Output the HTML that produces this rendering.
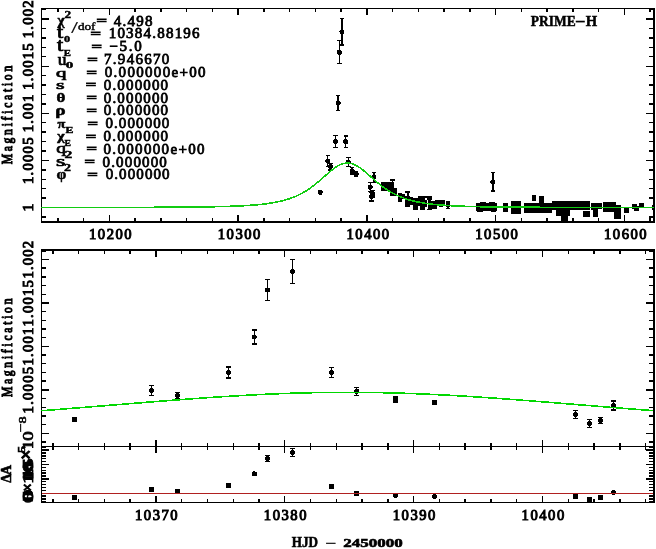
<!DOCTYPE html>
<html><head><meta charset="utf-8"><style>
html,body{margin:0;padding:0;background:#fff;}
svg{display:block;}
</style></head><body>
<svg width="656" height="549" viewBox="0 0 656 549">
<rect x="0" y="0" width="656" height="549" fill="#fff"/>
<g shape-rendering="crispEdges">
<rect x="41.00" y="8.00" width="614.00" height="1.00" fill="#000"/>
<rect x="41.00" y="221.00" width="614.00" height="2.00" fill="#000"/>
<rect x="41.00" y="8.00" width="1.00" height="215.00" fill="#000"/>
<rect x="653.00" y="8.00" width="2.00" height="215.00" fill="#000"/>
<rect x="41.00" y="249.00" width="614.00" height="2.00" fill="#000"/>
<rect x="41.00" y="446.00" width="614.00" height="1.00" fill="#000"/>
<rect x="41.00" y="249.00" width="1.00" height="198.00" fill="#000"/>
<rect x="653.00" y="249.00" width="2.00" height="198.00" fill="#000"/>
<rect x="41.00" y="446.00" width="614.00" height="1.00" fill="#000"/>
<rect x="41.00" y="502.00" width="614.00" height="1.00" fill="#000"/>
<rect x="41.00" y="446.00" width="1.00" height="57.00" fill="#000"/>
<rect x="653.00" y="446.00" width="2.00" height="57.00" fill="#000"/>
<line x1="57.90" y1="8.00" x2="57.90" y2="12.00" stroke="#000" stroke-width="1.4"/>
<line x1="57.90" y1="222.00" x2="57.90" y2="218.00" stroke="#000" stroke-width="1.4"/>
<line x1="83.65" y1="8.00" x2="83.65" y2="12.00" stroke="#000" stroke-width="1.4"/>
<line x1="83.65" y1="222.00" x2="83.65" y2="218.00" stroke="#000" stroke-width="1.4"/>
<line x1="109.40" y1="8.00" x2="109.40" y2="15.00" stroke="#000" stroke-width="1.4"/>
<line x1="109.40" y1="222.00" x2="109.40" y2="215.00" stroke="#000" stroke-width="1.4"/>
<line x1="135.15" y1="8.00" x2="135.15" y2="12.00" stroke="#000" stroke-width="1.4"/>
<line x1="135.15" y1="222.00" x2="135.15" y2="218.00" stroke="#000" stroke-width="1.4"/>
<line x1="160.90" y1="8.00" x2="160.90" y2="12.00" stroke="#000" stroke-width="1.4"/>
<line x1="160.90" y1="222.00" x2="160.90" y2="218.00" stroke="#000" stroke-width="1.4"/>
<line x1="186.65" y1="8.00" x2="186.65" y2="12.00" stroke="#000" stroke-width="1.4"/>
<line x1="186.65" y1="222.00" x2="186.65" y2="218.00" stroke="#000" stroke-width="1.4"/>
<line x1="212.40" y1="8.00" x2="212.40" y2="12.00" stroke="#000" stroke-width="1.4"/>
<line x1="212.40" y1="222.00" x2="212.40" y2="218.00" stroke="#000" stroke-width="1.4"/>
<line x1="238.15" y1="8.00" x2="238.15" y2="15.00" stroke="#000" stroke-width="1.4"/>
<line x1="238.15" y1="222.00" x2="238.15" y2="215.00" stroke="#000" stroke-width="1.4"/>
<line x1="263.90" y1="8.00" x2="263.90" y2="12.00" stroke="#000" stroke-width="1.4"/>
<line x1="263.90" y1="222.00" x2="263.90" y2="218.00" stroke="#000" stroke-width="1.4"/>
<line x1="289.65" y1="8.00" x2="289.65" y2="12.00" stroke="#000" stroke-width="1.4"/>
<line x1="289.65" y1="222.00" x2="289.65" y2="218.00" stroke="#000" stroke-width="1.4"/>
<line x1="315.40" y1="8.00" x2="315.40" y2="12.00" stroke="#000" stroke-width="1.4"/>
<line x1="315.40" y1="222.00" x2="315.40" y2="218.00" stroke="#000" stroke-width="1.4"/>
<line x1="341.15" y1="8.00" x2="341.15" y2="12.00" stroke="#000" stroke-width="1.4"/>
<line x1="341.15" y1="222.00" x2="341.15" y2="218.00" stroke="#000" stroke-width="1.4"/>
<line x1="366.90" y1="8.00" x2="366.90" y2="15.00" stroke="#000" stroke-width="1.4"/>
<line x1="366.90" y1="222.00" x2="366.90" y2="215.00" stroke="#000" stroke-width="1.4"/>
<line x1="392.65" y1="8.00" x2="392.65" y2="12.00" stroke="#000" stroke-width="1.4"/>
<line x1="392.65" y1="222.00" x2="392.65" y2="218.00" stroke="#000" stroke-width="1.4"/>
<line x1="418.40" y1="8.00" x2="418.40" y2="12.00" stroke="#000" stroke-width="1.4"/>
<line x1="418.40" y1="222.00" x2="418.40" y2="218.00" stroke="#000" stroke-width="1.4"/>
<line x1="444.15" y1="8.00" x2="444.15" y2="12.00" stroke="#000" stroke-width="1.4"/>
<line x1="444.15" y1="222.00" x2="444.15" y2="218.00" stroke="#000" stroke-width="1.4"/>
<line x1="469.90" y1="8.00" x2="469.90" y2="12.00" stroke="#000" stroke-width="1.4"/>
<line x1="469.90" y1="222.00" x2="469.90" y2="218.00" stroke="#000" stroke-width="1.4"/>
<line x1="495.65" y1="8.00" x2="495.65" y2="15.00" stroke="#000" stroke-width="1.4"/>
<line x1="495.65" y1="222.00" x2="495.65" y2="215.00" stroke="#000" stroke-width="1.4"/>
<line x1="521.40" y1="8.00" x2="521.40" y2="12.00" stroke="#000" stroke-width="1.4"/>
<line x1="521.40" y1="222.00" x2="521.40" y2="218.00" stroke="#000" stroke-width="1.4"/>
<line x1="547.15" y1="8.00" x2="547.15" y2="12.00" stroke="#000" stroke-width="1.4"/>
<line x1="547.15" y1="222.00" x2="547.15" y2="218.00" stroke="#000" stroke-width="1.4"/>
<line x1="572.90" y1="8.00" x2="572.90" y2="12.00" stroke="#000" stroke-width="1.4"/>
<line x1="572.90" y1="222.00" x2="572.90" y2="218.00" stroke="#000" stroke-width="1.4"/>
<line x1="598.65" y1="8.00" x2="598.65" y2="12.00" stroke="#000" stroke-width="1.4"/>
<line x1="598.65" y1="222.00" x2="598.65" y2="218.00" stroke="#000" stroke-width="1.4"/>
<line x1="624.40" y1="8.00" x2="624.40" y2="15.00" stroke="#000" stroke-width="1.4"/>
<line x1="624.40" y1="222.00" x2="624.40" y2="215.00" stroke="#000" stroke-width="1.4"/>
<line x1="650.15" y1="8.00" x2="650.15" y2="12.00" stroke="#000" stroke-width="1.4"/>
<line x1="650.15" y1="222.00" x2="650.15" y2="218.00" stroke="#000" stroke-width="1.4"/>
<line x1="41.00" y1="216.92" x2="45.80" y2="216.92" stroke="#000" stroke-width="1.4"/>
<line x1="654.00" y1="216.92" x2="649.20" y2="216.92" stroke="#000" stroke-width="1.4"/>
<line x1="41.00" y1="207.50" x2="48.60" y2="207.50" stroke="#000" stroke-width="1.4"/>
<line x1="654.00" y1="207.50" x2="646.40" y2="207.50" stroke="#000" stroke-width="1.4"/>
<line x1="41.00" y1="198.08" x2="45.80" y2="198.08" stroke="#000" stroke-width="1.4"/>
<line x1="654.00" y1="198.08" x2="649.20" y2="198.08" stroke="#000" stroke-width="1.4"/>
<line x1="41.00" y1="188.66" x2="45.80" y2="188.66" stroke="#000" stroke-width="1.4"/>
<line x1="654.00" y1="188.66" x2="649.20" y2="188.66" stroke="#000" stroke-width="1.4"/>
<line x1="41.00" y1="179.24" x2="45.80" y2="179.24" stroke="#000" stroke-width="1.4"/>
<line x1="654.00" y1="179.24" x2="649.20" y2="179.24" stroke="#000" stroke-width="1.4"/>
<line x1="41.00" y1="169.82" x2="45.80" y2="169.82" stroke="#000" stroke-width="1.4"/>
<line x1="654.00" y1="169.82" x2="649.20" y2="169.82" stroke="#000" stroke-width="1.4"/>
<line x1="41.00" y1="160.40" x2="48.60" y2="160.40" stroke="#000" stroke-width="1.4"/>
<line x1="654.00" y1="160.40" x2="646.40" y2="160.40" stroke="#000" stroke-width="1.4"/>
<line x1="41.00" y1="150.98" x2="45.80" y2="150.98" stroke="#000" stroke-width="1.4"/>
<line x1="654.00" y1="150.98" x2="649.20" y2="150.98" stroke="#000" stroke-width="1.4"/>
<line x1="41.00" y1="141.56" x2="45.80" y2="141.56" stroke="#000" stroke-width="1.4"/>
<line x1="654.00" y1="141.56" x2="649.20" y2="141.56" stroke="#000" stroke-width="1.4"/>
<line x1="41.00" y1="132.14" x2="45.80" y2="132.14" stroke="#000" stroke-width="1.4"/>
<line x1="654.00" y1="132.14" x2="649.20" y2="132.14" stroke="#000" stroke-width="1.4"/>
<line x1="41.00" y1="122.72" x2="45.80" y2="122.72" stroke="#000" stroke-width="1.4"/>
<line x1="654.00" y1="122.72" x2="649.20" y2="122.72" stroke="#000" stroke-width="1.4"/>
<line x1="41.00" y1="113.30" x2="48.60" y2="113.30" stroke="#000" stroke-width="1.4"/>
<line x1="654.00" y1="113.30" x2="646.40" y2="113.30" stroke="#000" stroke-width="1.4"/>
<line x1="41.00" y1="103.88" x2="45.80" y2="103.88" stroke="#000" stroke-width="1.4"/>
<line x1="654.00" y1="103.88" x2="649.20" y2="103.88" stroke="#000" stroke-width="1.4"/>
<line x1="41.00" y1="94.46" x2="45.80" y2="94.46" stroke="#000" stroke-width="1.4"/>
<line x1="654.00" y1="94.46" x2="649.20" y2="94.46" stroke="#000" stroke-width="1.4"/>
<line x1="41.00" y1="85.04" x2="45.80" y2="85.04" stroke="#000" stroke-width="1.4"/>
<line x1="654.00" y1="85.04" x2="649.20" y2="85.04" stroke="#000" stroke-width="1.4"/>
<line x1="41.00" y1="75.62" x2="45.80" y2="75.62" stroke="#000" stroke-width="1.4"/>
<line x1="654.00" y1="75.62" x2="649.20" y2="75.62" stroke="#000" stroke-width="1.4"/>
<line x1="41.00" y1="66.20" x2="48.60" y2="66.20" stroke="#000" stroke-width="1.4"/>
<line x1="654.00" y1="66.20" x2="646.40" y2="66.20" stroke="#000" stroke-width="1.4"/>
<line x1="41.00" y1="56.78" x2="45.80" y2="56.78" stroke="#000" stroke-width="1.4"/>
<line x1="654.00" y1="56.78" x2="649.20" y2="56.78" stroke="#000" stroke-width="1.4"/>
<line x1="41.00" y1="47.36" x2="45.80" y2="47.36" stroke="#000" stroke-width="1.4"/>
<line x1="654.00" y1="47.36" x2="649.20" y2="47.36" stroke="#000" stroke-width="1.4"/>
<line x1="41.00" y1="37.94" x2="45.80" y2="37.94" stroke="#000" stroke-width="1.4"/>
<line x1="654.00" y1="37.94" x2="649.20" y2="37.94" stroke="#000" stroke-width="1.4"/>
<line x1="41.00" y1="28.52" x2="45.80" y2="28.52" stroke="#000" stroke-width="1.4"/>
<line x1="654.00" y1="28.52" x2="649.20" y2="28.52" stroke="#000" stroke-width="1.4"/>
<line x1="41.00" y1="19.10" x2="48.60" y2="19.10" stroke="#000" stroke-width="1.4"/>
<line x1="654.00" y1="19.10" x2="646.40" y2="19.10" stroke="#000" stroke-width="1.4"/>
<line x1="41.00" y1="9.68" x2="45.80" y2="9.68" stroke="#000" stroke-width="1.4"/>
<line x1="654.00" y1="9.68" x2="649.20" y2="9.68" stroke="#000" stroke-width="1.4"/>
<line x1="52.80" y1="250.00" x2="52.80" y2="254.00" stroke="#000" stroke-width="1.4"/>
<line x1="52.80" y1="447.00" x2="52.80" y2="443.00" stroke="#000" stroke-width="1.4"/>
<line x1="78.58" y1="250.00" x2="78.58" y2="254.00" stroke="#000" stroke-width="1.4"/>
<line x1="78.58" y1="447.00" x2="78.58" y2="443.00" stroke="#000" stroke-width="1.4"/>
<line x1="104.35" y1="250.00" x2="104.35" y2="254.00" stroke="#000" stroke-width="1.4"/>
<line x1="104.35" y1="447.00" x2="104.35" y2="443.00" stroke="#000" stroke-width="1.4"/>
<line x1="130.13" y1="250.00" x2="130.13" y2="254.00" stroke="#000" stroke-width="1.4"/>
<line x1="130.13" y1="447.00" x2="130.13" y2="443.00" stroke="#000" stroke-width="1.4"/>
<line x1="155.90" y1="250.00" x2="155.90" y2="257.00" stroke="#000" stroke-width="1.4"/>
<line x1="155.90" y1="447.00" x2="155.90" y2="440.00" stroke="#000" stroke-width="1.4"/>
<line x1="181.67" y1="250.00" x2="181.67" y2="254.00" stroke="#000" stroke-width="1.4"/>
<line x1="181.67" y1="447.00" x2="181.67" y2="443.00" stroke="#000" stroke-width="1.4"/>
<line x1="207.45" y1="250.00" x2="207.45" y2="254.00" stroke="#000" stroke-width="1.4"/>
<line x1="207.45" y1="447.00" x2="207.45" y2="443.00" stroke="#000" stroke-width="1.4"/>
<line x1="233.22" y1="250.00" x2="233.22" y2="254.00" stroke="#000" stroke-width="1.4"/>
<line x1="233.22" y1="447.00" x2="233.22" y2="443.00" stroke="#000" stroke-width="1.4"/>
<line x1="259.00" y1="250.00" x2="259.00" y2="254.00" stroke="#000" stroke-width="1.4"/>
<line x1="259.00" y1="447.00" x2="259.00" y2="443.00" stroke="#000" stroke-width="1.4"/>
<line x1="284.77" y1="250.00" x2="284.77" y2="257.00" stroke="#000" stroke-width="1.4"/>
<line x1="284.77" y1="447.00" x2="284.77" y2="440.00" stroke="#000" stroke-width="1.4"/>
<line x1="310.54" y1="250.00" x2="310.54" y2="254.00" stroke="#000" stroke-width="1.4"/>
<line x1="310.54" y1="447.00" x2="310.54" y2="443.00" stroke="#000" stroke-width="1.4"/>
<line x1="336.32" y1="250.00" x2="336.32" y2="254.00" stroke="#000" stroke-width="1.4"/>
<line x1="336.32" y1="447.00" x2="336.32" y2="443.00" stroke="#000" stroke-width="1.4"/>
<line x1="362.09" y1="250.00" x2="362.09" y2="254.00" stroke="#000" stroke-width="1.4"/>
<line x1="362.09" y1="447.00" x2="362.09" y2="443.00" stroke="#000" stroke-width="1.4"/>
<line x1="387.87" y1="250.00" x2="387.87" y2="254.00" stroke="#000" stroke-width="1.4"/>
<line x1="387.87" y1="447.00" x2="387.87" y2="443.00" stroke="#000" stroke-width="1.4"/>
<line x1="413.64" y1="250.00" x2="413.64" y2="257.00" stroke="#000" stroke-width="1.4"/>
<line x1="413.64" y1="447.00" x2="413.64" y2="440.00" stroke="#000" stroke-width="1.4"/>
<line x1="439.41" y1="250.00" x2="439.41" y2="254.00" stroke="#000" stroke-width="1.4"/>
<line x1="439.41" y1="447.00" x2="439.41" y2="443.00" stroke="#000" stroke-width="1.4"/>
<line x1="465.19" y1="250.00" x2="465.19" y2="254.00" stroke="#000" stroke-width="1.4"/>
<line x1="465.19" y1="447.00" x2="465.19" y2="443.00" stroke="#000" stroke-width="1.4"/>
<line x1="490.96" y1="250.00" x2="490.96" y2="254.00" stroke="#000" stroke-width="1.4"/>
<line x1="490.96" y1="447.00" x2="490.96" y2="443.00" stroke="#000" stroke-width="1.4"/>
<line x1="516.74" y1="250.00" x2="516.74" y2="254.00" stroke="#000" stroke-width="1.4"/>
<line x1="516.74" y1="447.00" x2="516.74" y2="443.00" stroke="#000" stroke-width="1.4"/>
<line x1="542.51" y1="250.00" x2="542.51" y2="257.00" stroke="#000" stroke-width="1.4"/>
<line x1="542.51" y1="447.00" x2="542.51" y2="440.00" stroke="#000" stroke-width="1.4"/>
<line x1="568.28" y1="250.00" x2="568.28" y2="254.00" stroke="#000" stroke-width="1.4"/>
<line x1="568.28" y1="447.00" x2="568.28" y2="443.00" stroke="#000" stroke-width="1.4"/>
<line x1="594.06" y1="250.00" x2="594.06" y2="254.00" stroke="#000" stroke-width="1.4"/>
<line x1="594.06" y1="447.00" x2="594.06" y2="443.00" stroke="#000" stroke-width="1.4"/>
<line x1="619.83" y1="250.00" x2="619.83" y2="254.00" stroke="#000" stroke-width="1.4"/>
<line x1="619.83" y1="447.00" x2="619.83" y2="443.00" stroke="#000" stroke-width="1.4"/>
<line x1="645.61" y1="250.00" x2="645.61" y2="254.00" stroke="#000" stroke-width="1.4"/>
<line x1="645.61" y1="447.00" x2="645.61" y2="443.00" stroke="#000" stroke-width="1.4"/>
<line x1="41.00" y1="441.99" x2="45.80" y2="441.99" stroke="#000" stroke-width="1.4"/>
<line x1="654.00" y1="441.99" x2="649.20" y2="441.99" stroke="#000" stroke-width="1.4"/>
<line x1="41.00" y1="433.30" x2="48.60" y2="433.30" stroke="#000" stroke-width="1.4"/>
<line x1="654.00" y1="433.30" x2="646.40" y2="433.30" stroke="#000" stroke-width="1.4"/>
<line x1="41.00" y1="424.61" x2="45.80" y2="424.61" stroke="#000" stroke-width="1.4"/>
<line x1="654.00" y1="424.61" x2="649.20" y2="424.61" stroke="#000" stroke-width="1.4"/>
<line x1="41.00" y1="415.92" x2="45.80" y2="415.92" stroke="#000" stroke-width="1.4"/>
<line x1="654.00" y1="415.92" x2="649.20" y2="415.92" stroke="#000" stroke-width="1.4"/>
<line x1="41.00" y1="407.23" x2="45.80" y2="407.23" stroke="#000" stroke-width="1.4"/>
<line x1="654.00" y1="407.23" x2="649.20" y2="407.23" stroke="#000" stroke-width="1.4"/>
<line x1="41.00" y1="398.54" x2="45.80" y2="398.54" stroke="#000" stroke-width="1.4"/>
<line x1="654.00" y1="398.54" x2="649.20" y2="398.54" stroke="#000" stroke-width="1.4"/>
<line x1="41.00" y1="389.85" x2="48.60" y2="389.85" stroke="#000" stroke-width="1.4"/>
<line x1="654.00" y1="389.85" x2="646.40" y2="389.85" stroke="#000" stroke-width="1.4"/>
<line x1="41.00" y1="381.16" x2="45.80" y2="381.16" stroke="#000" stroke-width="1.4"/>
<line x1="654.00" y1="381.16" x2="649.20" y2="381.16" stroke="#000" stroke-width="1.4"/>
<line x1="41.00" y1="372.47" x2="45.80" y2="372.47" stroke="#000" stroke-width="1.4"/>
<line x1="654.00" y1="372.47" x2="649.20" y2="372.47" stroke="#000" stroke-width="1.4"/>
<line x1="41.00" y1="363.78" x2="45.80" y2="363.78" stroke="#000" stroke-width="1.4"/>
<line x1="654.00" y1="363.78" x2="649.20" y2="363.78" stroke="#000" stroke-width="1.4"/>
<line x1="41.00" y1="355.09" x2="45.80" y2="355.09" stroke="#000" stroke-width="1.4"/>
<line x1="654.00" y1="355.09" x2="649.20" y2="355.09" stroke="#000" stroke-width="1.4"/>
<line x1="41.00" y1="346.40" x2="48.60" y2="346.40" stroke="#000" stroke-width="1.4"/>
<line x1="654.00" y1="346.40" x2="646.40" y2="346.40" stroke="#000" stroke-width="1.4"/>
<line x1="41.00" y1="337.71" x2="45.80" y2="337.71" stroke="#000" stroke-width="1.4"/>
<line x1="654.00" y1="337.71" x2="649.20" y2="337.71" stroke="#000" stroke-width="1.4"/>
<line x1="41.00" y1="329.02" x2="45.80" y2="329.02" stroke="#000" stroke-width="1.4"/>
<line x1="654.00" y1="329.02" x2="649.20" y2="329.02" stroke="#000" stroke-width="1.4"/>
<line x1="41.00" y1="320.33" x2="45.80" y2="320.33" stroke="#000" stroke-width="1.4"/>
<line x1="654.00" y1="320.33" x2="649.20" y2="320.33" stroke="#000" stroke-width="1.4"/>
<line x1="41.00" y1="311.64" x2="45.80" y2="311.64" stroke="#000" stroke-width="1.4"/>
<line x1="654.00" y1="311.64" x2="649.20" y2="311.64" stroke="#000" stroke-width="1.4"/>
<line x1="41.00" y1="302.95" x2="48.60" y2="302.95" stroke="#000" stroke-width="1.4"/>
<line x1="654.00" y1="302.95" x2="646.40" y2="302.95" stroke="#000" stroke-width="1.4"/>
<line x1="41.00" y1="294.26" x2="45.80" y2="294.26" stroke="#000" stroke-width="1.4"/>
<line x1="654.00" y1="294.26" x2="649.20" y2="294.26" stroke="#000" stroke-width="1.4"/>
<line x1="41.00" y1="285.57" x2="45.80" y2="285.57" stroke="#000" stroke-width="1.4"/>
<line x1="654.00" y1="285.57" x2="649.20" y2="285.57" stroke="#000" stroke-width="1.4"/>
<line x1="41.00" y1="276.88" x2="45.80" y2="276.88" stroke="#000" stroke-width="1.4"/>
<line x1="654.00" y1="276.88" x2="649.20" y2="276.88" stroke="#000" stroke-width="1.4"/>
<line x1="41.00" y1="268.19" x2="45.80" y2="268.19" stroke="#000" stroke-width="1.4"/>
<line x1="654.00" y1="268.19" x2="649.20" y2="268.19" stroke="#000" stroke-width="1.4"/>
<line x1="41.00" y1="259.50" x2="48.60" y2="259.50" stroke="#000" stroke-width="1.4"/>
<line x1="654.00" y1="259.50" x2="646.40" y2="259.50" stroke="#000" stroke-width="1.4"/>
<line x1="41.00" y1="250.81" x2="45.80" y2="250.81" stroke="#000" stroke-width="1.4"/>
<line x1="654.00" y1="250.81" x2="649.20" y2="250.81" stroke="#000" stroke-width="1.4"/>
<line x1="52.80" y1="446.00" x2="52.80" y2="450.00" stroke="#000" stroke-width="1.4"/>
<line x1="52.80" y1="502.50" x2="52.80" y2="498.50" stroke="#000" stroke-width="1.4"/>
<line x1="78.58" y1="446.00" x2="78.58" y2="450.00" stroke="#000" stroke-width="1.4"/>
<line x1="78.58" y1="502.50" x2="78.58" y2="498.50" stroke="#000" stroke-width="1.4"/>
<line x1="104.35" y1="446.00" x2="104.35" y2="450.00" stroke="#000" stroke-width="1.4"/>
<line x1="104.35" y1="502.50" x2="104.35" y2="498.50" stroke="#000" stroke-width="1.4"/>
<line x1="130.13" y1="446.00" x2="130.13" y2="450.00" stroke="#000" stroke-width="1.4"/>
<line x1="130.13" y1="502.50" x2="130.13" y2="498.50" stroke="#000" stroke-width="1.4"/>
<line x1="155.90" y1="446.00" x2="155.90" y2="453.00" stroke="#000" stroke-width="1.4"/>
<line x1="155.90" y1="502.50" x2="155.90" y2="495.50" stroke="#000" stroke-width="1.4"/>
<line x1="181.67" y1="446.00" x2="181.67" y2="450.00" stroke="#000" stroke-width="1.4"/>
<line x1="181.67" y1="502.50" x2="181.67" y2="498.50" stroke="#000" stroke-width="1.4"/>
<line x1="207.45" y1="446.00" x2="207.45" y2="450.00" stroke="#000" stroke-width="1.4"/>
<line x1="207.45" y1="502.50" x2="207.45" y2="498.50" stroke="#000" stroke-width="1.4"/>
<line x1="233.22" y1="446.00" x2="233.22" y2="450.00" stroke="#000" stroke-width="1.4"/>
<line x1="233.22" y1="502.50" x2="233.22" y2="498.50" stroke="#000" stroke-width="1.4"/>
<line x1="259.00" y1="446.00" x2="259.00" y2="450.00" stroke="#000" stroke-width="1.4"/>
<line x1="259.00" y1="502.50" x2="259.00" y2="498.50" stroke="#000" stroke-width="1.4"/>
<line x1="284.77" y1="446.00" x2="284.77" y2="453.00" stroke="#000" stroke-width="1.4"/>
<line x1="284.77" y1="502.50" x2="284.77" y2="495.50" stroke="#000" stroke-width="1.4"/>
<line x1="310.54" y1="446.00" x2="310.54" y2="450.00" stroke="#000" stroke-width="1.4"/>
<line x1="310.54" y1="502.50" x2="310.54" y2="498.50" stroke="#000" stroke-width="1.4"/>
<line x1="336.32" y1="446.00" x2="336.32" y2="450.00" stroke="#000" stroke-width="1.4"/>
<line x1="336.32" y1="502.50" x2="336.32" y2="498.50" stroke="#000" stroke-width="1.4"/>
<line x1="362.09" y1="446.00" x2="362.09" y2="450.00" stroke="#000" stroke-width="1.4"/>
<line x1="362.09" y1="502.50" x2="362.09" y2="498.50" stroke="#000" stroke-width="1.4"/>
<line x1="387.87" y1="446.00" x2="387.87" y2="450.00" stroke="#000" stroke-width="1.4"/>
<line x1="387.87" y1="502.50" x2="387.87" y2="498.50" stroke="#000" stroke-width="1.4"/>
<line x1="413.64" y1="446.00" x2="413.64" y2="453.00" stroke="#000" stroke-width="1.4"/>
<line x1="413.64" y1="502.50" x2="413.64" y2="495.50" stroke="#000" stroke-width="1.4"/>
<line x1="439.41" y1="446.00" x2="439.41" y2="450.00" stroke="#000" stroke-width="1.4"/>
<line x1="439.41" y1="502.50" x2="439.41" y2="498.50" stroke="#000" stroke-width="1.4"/>
<line x1="465.19" y1="446.00" x2="465.19" y2="450.00" stroke="#000" stroke-width="1.4"/>
<line x1="465.19" y1="502.50" x2="465.19" y2="498.50" stroke="#000" stroke-width="1.4"/>
<line x1="490.96" y1="446.00" x2="490.96" y2="450.00" stroke="#000" stroke-width="1.4"/>
<line x1="490.96" y1="502.50" x2="490.96" y2="498.50" stroke="#000" stroke-width="1.4"/>
<line x1="516.74" y1="446.00" x2="516.74" y2="450.00" stroke="#000" stroke-width="1.4"/>
<line x1="516.74" y1="502.50" x2="516.74" y2="498.50" stroke="#000" stroke-width="1.4"/>
<line x1="542.51" y1="446.00" x2="542.51" y2="453.00" stroke="#000" stroke-width="1.4"/>
<line x1="542.51" y1="502.50" x2="542.51" y2="495.50" stroke="#000" stroke-width="1.4"/>
<line x1="568.28" y1="446.00" x2="568.28" y2="450.00" stroke="#000" stroke-width="1.4"/>
<line x1="568.28" y1="502.50" x2="568.28" y2="498.50" stroke="#000" stroke-width="1.4"/>
<line x1="594.06" y1="446.00" x2="594.06" y2="450.00" stroke="#000" stroke-width="1.4"/>
<line x1="594.06" y1="502.50" x2="594.06" y2="498.50" stroke="#000" stroke-width="1.4"/>
<line x1="619.83" y1="446.00" x2="619.83" y2="450.00" stroke="#000" stroke-width="1.4"/>
<line x1="619.83" y1="502.50" x2="619.83" y2="498.50" stroke="#000" stroke-width="1.4"/>
<line x1="645.61" y1="446.00" x2="645.61" y2="450.00" stroke="#000" stroke-width="1.4"/>
<line x1="645.61" y1="502.50" x2="645.61" y2="498.50" stroke="#000" stroke-width="1.4"/>
<line x1="41.00" y1="501.81" x2="45.80" y2="501.81" stroke="#000" stroke-width="1.4"/>
<line x1="654.00" y1="501.81" x2="649.20" y2="501.81" stroke="#000" stroke-width="1.4"/>
<line x1="41.00" y1="498.94" x2="45.80" y2="498.94" stroke="#000" stroke-width="1.4"/>
<line x1="654.00" y1="498.94" x2="649.20" y2="498.94" stroke="#000" stroke-width="1.4"/>
<line x1="41.00" y1="496.07" x2="45.80" y2="496.07" stroke="#000" stroke-width="1.4"/>
<line x1="654.00" y1="496.07" x2="649.20" y2="496.07" stroke="#000" stroke-width="1.4"/>
<line x1="41.00" y1="493.20" x2="48.60" y2="493.20" stroke="#000" stroke-width="1.4"/>
<line x1="654.00" y1="493.20" x2="646.40" y2="493.20" stroke="#000" stroke-width="1.4"/>
<line x1="41.00" y1="490.33" x2="45.80" y2="490.33" stroke="#000" stroke-width="1.4"/>
<line x1="654.00" y1="490.33" x2="649.20" y2="490.33" stroke="#000" stroke-width="1.4"/>
<line x1="41.00" y1="487.46" x2="45.80" y2="487.46" stroke="#000" stroke-width="1.4"/>
<line x1="654.00" y1="487.46" x2="649.20" y2="487.46" stroke="#000" stroke-width="1.4"/>
<line x1="41.00" y1="484.59" x2="45.80" y2="484.59" stroke="#000" stroke-width="1.4"/>
<line x1="654.00" y1="484.59" x2="649.20" y2="484.59" stroke="#000" stroke-width="1.4"/>
<line x1="41.00" y1="481.72" x2="45.80" y2="481.72" stroke="#000" stroke-width="1.4"/>
<line x1="654.00" y1="481.72" x2="649.20" y2="481.72" stroke="#000" stroke-width="1.4"/>
<line x1="41.00" y1="478.85" x2="48.60" y2="478.85" stroke="#000" stroke-width="1.4"/>
<line x1="654.00" y1="478.85" x2="646.40" y2="478.85" stroke="#000" stroke-width="1.4"/>
<line x1="41.00" y1="475.98" x2="45.80" y2="475.98" stroke="#000" stroke-width="1.4"/>
<line x1="654.00" y1="475.98" x2="649.20" y2="475.98" stroke="#000" stroke-width="1.4"/>
<line x1="41.00" y1="473.11" x2="45.80" y2="473.11" stroke="#000" stroke-width="1.4"/>
<line x1="654.00" y1="473.11" x2="649.20" y2="473.11" stroke="#000" stroke-width="1.4"/>
<line x1="41.00" y1="470.24" x2="45.80" y2="470.24" stroke="#000" stroke-width="1.4"/>
<line x1="654.00" y1="470.24" x2="649.20" y2="470.24" stroke="#000" stroke-width="1.4"/>
<line x1="41.00" y1="467.37" x2="45.80" y2="467.37" stroke="#000" stroke-width="1.4"/>
<line x1="654.00" y1="467.37" x2="649.20" y2="467.37" stroke="#000" stroke-width="1.4"/>
<line x1="41.00" y1="464.50" x2="48.60" y2="464.50" stroke="#000" stroke-width="1.4"/>
<line x1="654.00" y1="464.50" x2="646.40" y2="464.50" stroke="#000" stroke-width="1.4"/>
<line x1="41.00" y1="461.63" x2="45.80" y2="461.63" stroke="#000" stroke-width="1.4"/>
<line x1="654.00" y1="461.63" x2="649.20" y2="461.63" stroke="#000" stroke-width="1.4"/>
<line x1="41.00" y1="458.76" x2="45.80" y2="458.76" stroke="#000" stroke-width="1.4"/>
<line x1="654.00" y1="458.76" x2="649.20" y2="458.76" stroke="#000" stroke-width="1.4"/>
<line x1="41.00" y1="455.89" x2="45.80" y2="455.89" stroke="#000" stroke-width="1.4"/>
<line x1="654.00" y1="455.89" x2="649.20" y2="455.89" stroke="#000" stroke-width="1.4"/>
<line x1="41.00" y1="453.02" x2="45.80" y2="453.02" stroke="#000" stroke-width="1.4"/>
<line x1="654.00" y1="453.02" x2="649.20" y2="453.02" stroke="#000" stroke-width="1.4"/>
<line x1="41.00" y1="450.15" x2="48.60" y2="450.15" stroke="#000" stroke-width="1.4"/>
<line x1="654.00" y1="450.15" x2="646.40" y2="450.15" stroke="#000" stroke-width="1.4"/>
<line x1="41.00" y1="447.28" x2="45.80" y2="447.28" stroke="#000" stroke-width="1.4"/>
<line x1="654.00" y1="447.28" x2="649.20" y2="447.28" stroke="#000" stroke-width="1.4"/>
<rect x="72.25" y="416.90" width="5.00" height="5.00" fill="#000"/>
<line x1="151.50" y1="385.50" x2="151.50" y2="395.50" stroke="#000" stroke-width="1.3"/>
<line x1="149.20" y1="385.50" x2="153.80" y2="385.50" stroke="#000" stroke-width="1.3"/>
<line x1="149.20" y1="395.50" x2="153.80" y2="395.50" stroke="#000" stroke-width="1.3"/>
<circle cx="151.50" cy="390.50" r="2.5" fill="#000"/>
<line x1="177.25" y1="392.40" x2="177.25" y2="398.60" stroke="#000" stroke-width="1.3"/>
<line x1="174.95" y1="392.40" x2="179.55" y2="392.40" stroke="#000" stroke-width="1.3"/>
<line x1="174.95" y1="398.60" x2="179.55" y2="398.60" stroke="#000" stroke-width="1.3"/>
<circle cx="177.25" cy="395.50" r="2.5" fill="#000"/>
<line x1="228.50" y1="366.90" x2="228.50" y2="378.10" stroke="#000" stroke-width="1.3"/>
<line x1="226.20" y1="366.90" x2="230.80" y2="366.90" stroke="#000" stroke-width="1.3"/>
<line x1="226.20" y1="378.10" x2="230.80" y2="378.10" stroke="#000" stroke-width="1.3"/>
<circle cx="228.50" cy="372.50" r="2.5" fill="#000"/>
<line x1="254.25" y1="329.90" x2="254.25" y2="344.10" stroke="#000" stroke-width="1.3"/>
<line x1="251.95" y1="329.90" x2="256.55" y2="329.90" stroke="#000" stroke-width="1.3"/>
<line x1="251.95" y1="344.10" x2="256.55" y2="344.10" stroke="#000" stroke-width="1.3"/>
<circle cx="254.25" cy="337.00" r="2.5" fill="#000"/>
<line x1="267.50" y1="279.50" x2="267.50" y2="300.50" stroke="#000" stroke-width="1.3"/>
<line x1="265.20" y1="279.50" x2="269.80" y2="279.50" stroke="#000" stroke-width="1.3"/>
<line x1="265.20" y1="300.50" x2="269.80" y2="300.50" stroke="#000" stroke-width="1.3"/>
<circle cx="267.50" cy="290.00" r="2.5" fill="#000"/>
<line x1="292.50" y1="259.15" x2="292.50" y2="283.35" stroke="#000" stroke-width="1.3"/>
<line x1="290.20" y1="259.15" x2="294.80" y2="259.15" stroke="#000" stroke-width="1.3"/>
<line x1="290.20" y1="283.35" x2="294.80" y2="283.35" stroke="#000" stroke-width="1.3"/>
<circle cx="292.50" cy="271.25" r="2.5" fill="#000"/>
<line x1="331.75" y1="367.25" x2="331.75" y2="377.75" stroke="#000" stroke-width="1.3"/>
<line x1="329.45" y1="367.25" x2="334.05" y2="367.25" stroke="#000" stroke-width="1.3"/>
<line x1="329.45" y1="377.75" x2="334.05" y2="377.75" stroke="#000" stroke-width="1.3"/>
<circle cx="331.75" cy="372.50" r="2.5" fill="#000"/>
<line x1="356.75" y1="387.25" x2="356.75" y2="395.25" stroke="#000" stroke-width="1.3"/>
<line x1="354.45" y1="387.25" x2="359.05" y2="387.25" stroke="#000" stroke-width="1.3"/>
<line x1="354.45" y1="395.25" x2="359.05" y2="395.25" stroke="#000" stroke-width="1.3"/>
<circle cx="356.75" cy="391.25" r="2.5" fill="#000"/>
<line x1="395.25" y1="396.50" x2="395.25" y2="402.50" stroke="#000" stroke-width="1.3"/>
<line x1="392.95" y1="396.50" x2="397.55" y2="396.50" stroke="#000" stroke-width="1.3"/>
<line x1="392.95" y1="402.50" x2="397.55" y2="402.50" stroke="#000" stroke-width="1.3"/>
<rect x="392.75" y="397.00" width="5.00" height="5.00" fill="#000"/>
<line x1="434.50" y1="400.50" x2="434.50" y2="404.50" stroke="#000" stroke-width="1.3"/>
<line x1="432.20" y1="400.50" x2="436.80" y2="400.50" stroke="#000" stroke-width="1.3"/>
<line x1="432.20" y1="404.50" x2="436.80" y2="404.50" stroke="#000" stroke-width="1.3"/>
<rect x="432.00" y="400.00" width="5.00" height="5.00" fill="#000"/>
<line x1="575.25" y1="410.50" x2="575.25" y2="418.50" stroke="#000" stroke-width="1.3"/>
<line x1="572.95" y1="410.50" x2="577.55" y2="410.50" stroke="#000" stroke-width="1.3"/>
<line x1="572.95" y1="418.50" x2="577.55" y2="418.50" stroke="#000" stroke-width="1.3"/>
<circle cx="575.25" cy="414.50" r="2.5" fill="#000"/>
<line x1="589.50" y1="419.25" x2="589.50" y2="427.25" stroke="#000" stroke-width="1.3"/>
<line x1="587.20" y1="419.25" x2="591.80" y2="419.25" stroke="#000" stroke-width="1.3"/>
<line x1="587.20" y1="427.25" x2="591.80" y2="427.25" stroke="#000" stroke-width="1.3"/>
<circle cx="589.50" cy="423.25" r="2.5" fill="#000"/>
<line x1="600.75" y1="417.50" x2="600.75" y2="423.50" stroke="#000" stroke-width="1.3"/>
<line x1="598.45" y1="417.50" x2="603.05" y2="417.50" stroke="#000" stroke-width="1.3"/>
<line x1="598.45" y1="423.50" x2="603.05" y2="423.50" stroke="#000" stroke-width="1.3"/>
<circle cx="600.75" cy="420.50" r="2.5" fill="#000"/>
<line x1="613.75" y1="401.00" x2="613.75" y2="410.00" stroke="#000" stroke-width="1.3"/>
<line x1="611.45" y1="401.00" x2="616.05" y2="401.00" stroke="#000" stroke-width="1.3"/>
<line x1="611.45" y1="410.00" x2="616.05" y2="410.00" stroke="#000" stroke-width="1.3"/>
<circle cx="613.75" cy="405.50" r="2.5" fill="#000"/>
<rect x="71.75" y="494.50" width="5.00" height="5.00" fill="#000"/>
<rect x="149.00" y="486.75" width="5.00" height="5.00" fill="#000"/>
<rect x="174.75" y="489.25" width="5.00" height="5.00" fill="#000"/>
<rect x="225.75" y="483.00" width="5.00" height="5.00" fill="#000"/>
<line x1="254.25" y1="472.25" x2="254.25" y2="475.25" stroke="#000" stroke-width="1.4"/>
<line x1="251.95" y1="472.25" x2="256.55" y2="472.25" stroke="#000" stroke-width="1.4"/>
<line x1="251.95" y1="475.25" x2="256.55" y2="475.25" stroke="#000" stroke-width="1.4"/>
<circle cx="254.25" cy="473.75" r="2.5" fill="#000"/>
<line x1="267.50" y1="455.75" x2="267.50" y2="461.75" stroke="#000" stroke-width="1.4"/>
<line x1="265.20" y1="455.75" x2="269.80" y2="455.75" stroke="#000" stroke-width="1.4"/>
<line x1="265.20" y1="461.75" x2="269.80" y2="461.75" stroke="#000" stroke-width="1.4"/>
<circle cx="267.50" cy="458.75" r="2.5" fill="#000"/>
<line x1="292.50" y1="448.50" x2="292.50" y2="456.50" stroke="#000" stroke-width="1.4"/>
<line x1="290.20" y1="448.50" x2="294.80" y2="448.50" stroke="#000" stroke-width="1.4"/>
<line x1="290.20" y1="456.50" x2="294.80" y2="456.50" stroke="#000" stroke-width="1.4"/>
<circle cx="292.50" cy="452.50" r="2.5" fill="#000"/>
<rect x="329.25" y="483.75" width="5.00" height="5.00" fill="#000"/>
<rect x="354.25" y="490.50" width="5.00" height="5.00" fill="#000"/>
<circle cx="395.25" cy="495.50" r="2.5" fill="#000"/>
<circle cx="434.50" cy="496.25" r="2.5" fill="#000"/>
<line x1="575.25" y1="495.00" x2="575.25" y2="498.00" stroke="#000" stroke-width="1.4"/>
<line x1="572.95" y1="495.00" x2="577.55" y2="495.00" stroke="#000" stroke-width="1.4"/>
<line x1="572.95" y1="498.00" x2="577.55" y2="498.00" stroke="#000" stroke-width="1.4"/>
<circle cx="575.25" cy="496.50" r="2.5" fill="#000"/>
<rect x="587.00" y="496.50" width="5.00" height="5.00" fill="#000"/>
<line x1="600.75" y1="496.00" x2="600.75" y2="499.00" stroke="#000" stroke-width="1.4"/>
<line x1="598.45" y1="496.00" x2="603.05" y2="496.00" stroke="#000" stroke-width="1.4"/>
<line x1="598.45" y1="499.00" x2="603.05" y2="499.00" stroke="#000" stroke-width="1.4"/>
<circle cx="600.75" cy="497.50" r="2.5" fill="#000"/>
<circle cx="613.75" cy="492.50" r="2.5" fill="#000"/>
<circle cx="320.17" cy="192.43" r="2.5" fill="#000"/>
<line x1="327.84" y1="155.68" x2="327.84" y2="166.52" stroke="#000" stroke-width="1.3"/>
<line x1="325.54" y1="155.68" x2="330.14" y2="155.68" stroke="#000" stroke-width="1.3"/>
<line x1="325.54" y1="166.52" x2="330.14" y2="166.52" stroke="#000" stroke-width="1.3"/>
<circle cx="327.84" cy="161.10" r="2.5" fill="#000"/>
<line x1="330.41" y1="163.16" x2="330.41" y2="169.89" stroke="#000" stroke-width="1.3"/>
<line x1="328.11" y1="163.16" x2="332.71" y2="163.16" stroke="#000" stroke-width="1.3"/>
<line x1="328.11" y1="169.89" x2="332.71" y2="169.89" stroke="#000" stroke-width="1.3"/>
<circle cx="330.41" cy="166.52" r="2.5" fill="#000"/>
<line x1="335.53" y1="135.52" x2="335.53" y2="147.66" stroke="#000" stroke-width="1.3"/>
<line x1="333.23" y1="135.52" x2="337.83" y2="135.52" stroke="#000" stroke-width="1.3"/>
<line x1="333.23" y1="147.66" x2="337.83" y2="147.66" stroke="#000" stroke-width="1.3"/>
<circle cx="335.53" cy="141.59" r="2.5" fill="#000"/>
<line x1="338.10" y1="95.41" x2="338.10" y2="110.81" stroke="#000" stroke-width="1.3"/>
<line x1="335.80" y1="95.41" x2="340.40" y2="95.41" stroke="#000" stroke-width="1.3"/>
<line x1="335.80" y1="110.81" x2="340.40" y2="110.81" stroke="#000" stroke-width="1.3"/>
<circle cx="338.10" cy="103.11" r="2.5" fill="#000"/>
<line x1="339.42" y1="40.78" x2="339.42" y2="63.54" stroke="#000" stroke-width="1.3"/>
<line x1="337.12" y1="40.78" x2="341.72" y2="40.78" stroke="#000" stroke-width="1.3"/>
<line x1="337.12" y1="63.54" x2="341.72" y2="63.54" stroke="#000" stroke-width="1.3"/>
<circle cx="339.42" cy="52.16" r="2.5" fill="#000"/>
<line x1="341.92" y1="18.72" x2="341.92" y2="44.95" stroke="#000" stroke-width="1.3"/>
<line x1="339.62" y1="18.72" x2="344.22" y2="18.72" stroke="#000" stroke-width="1.3"/>
<line x1="339.62" y1="44.95" x2="344.22" y2="44.95" stroke="#000" stroke-width="1.3"/>
<circle cx="341.92" cy="31.84" r="2.5" fill="#000"/>
<line x1="345.84" y1="135.90" x2="345.84" y2="147.28" stroke="#000" stroke-width="1.3"/>
<line x1="343.54" y1="135.90" x2="348.14" y2="135.90" stroke="#000" stroke-width="1.3"/>
<line x1="343.54" y1="147.28" x2="348.14" y2="147.28" stroke="#000" stroke-width="1.3"/>
<circle cx="345.84" cy="141.59" r="2.5" fill="#000"/>
<line x1="348.34" y1="157.58" x2="348.34" y2="166.25" stroke="#000" stroke-width="1.3"/>
<line x1="346.04" y1="157.58" x2="350.64" y2="157.58" stroke="#000" stroke-width="1.3"/>
<line x1="346.04" y1="166.25" x2="350.64" y2="166.25" stroke="#000" stroke-width="1.3"/>
<circle cx="348.34" cy="161.92" r="2.5" fill="#000"/>
<line x1="352.19" y1="167.61" x2="352.19" y2="174.11" stroke="#000" stroke-width="1.3"/>
<line x1="349.89" y1="167.61" x2="354.49" y2="167.61" stroke="#000" stroke-width="1.3"/>
<line x1="349.89" y1="174.11" x2="354.49" y2="174.11" stroke="#000" stroke-width="1.3"/>
<circle cx="352.19" cy="170.86" r="2.5" fill="#000"/>
<line x1="356.11" y1="171.94" x2="356.11" y2="176.28" stroke="#000" stroke-width="1.3"/>
<line x1="353.81" y1="171.94" x2="358.41" y2="171.94" stroke="#000" stroke-width="1.3"/>
<line x1="353.81" y1="176.28" x2="358.41" y2="176.28" stroke="#000" stroke-width="1.3"/>
<circle cx="356.11" cy="174.11" r="2.5" fill="#000"/>
<line x1="370.17" y1="182.78" x2="370.17" y2="191.46" stroke="#000" stroke-width="1.3"/>
<line x1="367.87" y1="182.78" x2="372.47" y2="182.78" stroke="#000" stroke-width="1.3"/>
<line x1="367.87" y1="191.46" x2="372.47" y2="191.46" stroke="#000" stroke-width="1.3"/>
<circle cx="370.17" cy="187.12" r="2.5" fill="#000"/>
<line x1="371.59" y1="192.27" x2="371.59" y2="200.94" stroke="#000" stroke-width="1.3"/>
<line x1="369.29" y1="192.27" x2="373.89" y2="192.27" stroke="#000" stroke-width="1.3"/>
<line x1="369.29" y1="200.94" x2="373.89" y2="200.94" stroke="#000" stroke-width="1.3"/>
<circle cx="371.59" cy="196.61" r="2.5" fill="#000"/>
<line x1="372.72" y1="190.37" x2="372.72" y2="196.88" stroke="#000" stroke-width="1.3"/>
<line x1="370.42" y1="190.37" x2="375.02" y2="190.37" stroke="#000" stroke-width="1.3"/>
<line x1="370.42" y1="196.88" x2="375.02" y2="196.88" stroke="#000" stroke-width="1.3"/>
<circle cx="372.72" cy="193.62" r="2.5" fill="#000"/>
<line x1="374.02" y1="172.49" x2="374.02" y2="182.24" stroke="#000" stroke-width="1.3"/>
<line x1="371.72" y1="172.49" x2="376.32" y2="172.49" stroke="#000" stroke-width="1.3"/>
<line x1="371.72" y1="182.24" x2="376.32" y2="182.24" stroke="#000" stroke-width="1.3"/>
<circle cx="374.02" cy="177.36" r="2.5" fill="#000"/>
<rect x="381.10" y="182.00" width="9.30" height="8.90" fill="#000"/>
<rect x="390.40" y="181.50" width="4.00" height="10.50" fill="#000"/>
<rect x="390.40" y="188.40" width="6.20" height="8.00" fill="#000"/>
<rect x="390.00" y="179.10" width="4.70" height="1.50" fill="#000"/>
<rect x="391.80" y="180.60" width="1.20" height="1.40" fill="#000"/>
<rect x="398.20" y="193.30" width="4.10" height="8.30" fill="#000"/>
<rect x="402.30" y="194.10" width="3.10" height="5.30" fill="#000"/>
<rect x="405.40" y="191.30" width="4.40" height="1.30" fill="#000"/>
<rect x="406.90" y="192.60" width="1.60" height="5.40" fill="#000"/>
<rect x="404.50" y="196.00" width="5.90" height="8.50" fill="#000"/>
<rect x="405.40" y="205.40" width="4.60" height="1.20" fill="#000"/>
<rect x="406.90" y="204.50" width="1.60" height="0.90" fill="#000"/>
<rect x="409.75" y="197.00" width="3.15" height="7.75" fill="#000"/>
<rect x="412.90" y="198.20" width="5.00" height="11.55" fill="#000"/>
<rect x="417.90" y="195.70" width="2.50" height="10.30" fill="#000"/>
<rect x="420.40" y="195.70" width="5.00" height="14.05" fill="#000"/>
<rect x="425.40" y="195.70" width="4.35" height="2.50" fill="#000"/>
<rect x="425.40" y="200.00" width="1.85" height="6.60" fill="#000"/>
<rect x="427.25" y="197.25" width="5.00" height="2.75" fill="#000"/>
<rect x="428.20" y="200.00" width="3.10" height="9.10" fill="#000"/>
<rect x="427.25" y="209.10" width="5.00" height="1.30" fill="#000"/>
<rect x="429.75" y="195.70" width="2.50" height="1.55" fill="#000"/>
<rect x="432.25" y="201.00" width="2.50" height="5.60" fill="#000"/>
<rect x="434.75" y="200.00" width="2.25" height="6.60" fill="#000"/>
<rect x="430.00" y="201.25" width="7.00" height="7.50" fill="#000"/>
<rect x="435.00" y="200.00" width="10.00" height="5.50" fill="#000"/>
<rect x="438.75" y="205.50" width="3.75" height="1.70" fill="#000"/>
<rect x="445.50" y="201.25" width="4.50" height="1.25" fill="#000"/>
<rect x="446.80" y="202.50" width="1.70" height="5.50" fill="#000"/>
<rect x="445.50" y="203.00" width="4.50" height="4.00" fill="#000"/>
<rect x="445.50" y="208.00" width="4.50" height="1.40" fill="#000"/>
<rect x="476.30" y="203.00" width="20.60" height="8.00" fill="#000"/>
<rect x="480.00" y="202.00" width="6.00" height="1.00" fill="#000"/>
<rect x="489.00" y="202.00" width="6.00" height="1.00" fill="#000"/>
<rect x="477.00" y="211.00" width="6.00" height="0.80" fill="#000"/>
<rect x="491.00" y="211.00" width="5.00" height="0.80" fill="#000"/>
<rect x="502.80" y="203.00" width="5.00" height="8.75" fill="#000"/>
<rect x="511.00" y="201.10" width="9.70" height="12.50" fill="#000"/>
<rect x="524.10" y="202.70" width="27.90" height="10.60" fill="#000"/>
<rect x="531.90" y="195.20" width="3.80" height="6.20" fill="#000"/>
<rect x="538.80" y="196.10" width="5.00" height="6.90" fill="#000"/>
<rect x="552.00" y="200.80" width="38.00" height="9.10" fill="#000"/>
<rect x="555.75" y="209.00" width="13.75" height="6.50" fill="#000"/>
<rect x="560.75" y="214.00" width="7.50" height="6.50" fill="#000"/>
<rect x="583.25" y="211.00" width="6.85" height="6.40" fill="#000"/>
<rect x="591.00" y="203.60" width="2.00" height="6.30" fill="#000"/>
<rect x="591.00" y="203.00" width="10.90" height="6.25" fill="#000"/>
<rect x="592.80" y="209.00" width="5.30" height="7.75" fill="#000"/>
<rect x="603.10" y="202.00" width="12.50" height="9.75" fill="#000"/>
<rect x="614.00" y="204.90" width="6.60" height="13.70" fill="#000"/>
<rect x="624.00" y="208.00" width="4.75" height="4.70" fill="#000"/>
<rect x="632.20" y="204.25" width="5.00" height="4.35" fill="#000"/>
<rect x="633.75" y="206.00" width="5.00" height="4.50" fill="#000"/>
<rect x="639.00" y="203.00" width="5.00" height="3.75" fill="#000"/>
<rect x="651.50" y="204.50" width="1.00" height="5.00" fill="#000"/>
<line x1="492.90" y1="172.70" x2="492.90" y2="191.10" stroke="#000" stroke-width="1.3"/>
<line x1="490.60" y1="172.70" x2="495.20" y2="172.70" stroke="#000" stroke-width="1.3"/>
<line x1="490.60" y1="191.10" x2="495.20" y2="191.10" stroke="#000" stroke-width="1.3"/>
<circle cx="492.90" cy="181.90" r="2.5" fill="#000"/>
<polyline points="41.03,207.47 41.65,207.47 42.26,207.46 42.87,207.46 43.49,207.46 44.10,207.46 44.71,207.46 45.32,207.46 45.94,207.46 46.55,207.46 47.16,207.46 47.78,207.46 48.39,207.46 49.00,207.46 49.62,207.46 50.23,207.46 50.84,207.46 51.45,207.46 52.07,207.46 52.68,207.46 53.29,207.46 53.91,207.46 54.52,207.46 55.13,207.46 55.75,207.46 56.36,207.46 56.97,207.46 57.58,207.46 58.20,207.46 58.81,207.46 59.42,207.46 60.04,207.46 60.65,207.46 61.26,207.45 61.88,207.45 62.49,207.45 63.10,207.45 63.71,207.45 64.33,207.45 64.94,207.45 65.55,207.45 66.17,207.45 66.78,207.45 67.39,207.45 68.00,207.45 68.62,207.45 69.23,207.45 69.84,207.45 70.46,207.45 71.07,207.45 71.68,207.45 72.30,207.45 72.91,207.45 73.52,207.45 74.13,207.45 74.75,207.45 75.36,207.45 75.97,207.44 76.59,207.44 77.20,207.44 77.81,207.44 78.43,207.44 79.04,207.44 79.65,207.44 80.26,207.44 80.88,207.44 81.49,207.44 82.10,207.44 82.72,207.44 83.33,207.44 83.94,207.44 84.56,207.44 85.17,207.44 85.78,207.44 86.39,207.44 87.01,207.43 87.62,207.43 88.23,207.43 88.85,207.43 89.46,207.43 90.07,207.43 90.69,207.43 91.30,207.43 91.91,207.43 92.52,207.43 93.14,207.43 93.75,207.43 94.36,207.43 94.98,207.43 95.59,207.43 96.20,207.43 96.81,207.42 97.43,207.42 98.04,207.42 98.65,207.42 99.27,207.42 99.88,207.42 100.49,207.42 101.11,207.42 101.72,207.42 102.33,207.42 102.94,207.42 103.56,207.42 104.17,207.42 104.78,207.41 105.40,207.41 106.01,207.41 106.62,207.41 107.24,207.41 107.85,207.41 108.46,207.41 109.07,207.41 109.69,207.41 110.30,207.41 110.91,207.41 111.53,207.40 112.14,207.40 112.75,207.40 113.37,207.40 113.98,207.40 114.59,207.40 115.20,207.40 115.82,207.40 116.43,207.40 117.04,207.40 117.66,207.39 118.27,207.39 118.88,207.39 119.50,207.39 120.11,207.39 120.72,207.39 121.33,207.39 121.95,207.39 122.56,207.39 123.17,207.38 123.79,207.38 124.40,207.38 125.01,207.38 125.62,207.38 126.24,207.38 126.85,207.38 127.46,207.38 128.08,207.37 128.69,207.37 129.30,207.37 129.92,207.37 130.53,207.37 131.14,207.37 131.75,207.37 132.37,207.36 132.98,207.36 133.59,207.36 134.21,207.36 134.82,207.36 135.43,207.36 136.05,207.36 136.66,207.35 137.27,207.35 137.88,207.35 138.50,207.35 139.11,207.35 139.72,207.35 140.34,207.34 140.95,207.34 141.56,207.34 142.18,207.34 142.79,207.34 143.40,207.34 144.01,207.33 144.63,207.33 145.24,207.33 145.85,207.33 146.47,207.33 147.08,207.32 147.69,207.32 148.31,207.32 148.92,207.32 149.53,207.32 150.14,207.31 150.76,207.31 151.37,207.31 151.98,207.31 152.60,207.30 153.21,207.30 153.82,207.30 154.43,207.30 155.05,207.29 155.66,207.29 156.27,207.29 156.89,207.29 157.50,207.28 158.11,207.28 158.73,207.28 159.34,207.28 159.95,207.27 160.56,207.27 161.18,207.27 161.79,207.27 162.40,207.26 163.02,207.26 163.63,207.26 164.24,207.25 164.86,207.25 165.47,207.25 166.08,207.24 166.69,207.24 167.31,207.24 167.92,207.23 168.53,207.23 169.15,207.23 169.76,207.22 170.37,207.22 170.99,207.22 171.60,207.21 172.21,207.21 172.82,207.21 173.44,207.20 174.05,207.20 174.66,207.19 175.28,207.19 175.89,207.19 176.50,207.18 177.12,207.18 177.73,207.17 178.34,207.17 178.95,207.17 179.57,207.16 180.18,207.16 180.79,207.15 181.41,207.15 182.02,207.14 182.63,207.14 183.24,207.13 183.86,207.13 184.47,207.12 185.08,207.12 185.70,207.11 186.31,207.11 186.92,207.10 187.54,207.10 188.15,207.09 188.76,207.08 189.37,207.08 189.99,207.07 190.60,207.07 191.21,207.06 191.83,207.05 192.44,207.05 193.05,207.04 193.67,207.03 194.28,207.03 194.89,207.02 195.50,207.01 196.12,207.01 196.73,207.00 197.34,206.99 197.96,206.98 198.57,206.98 199.18,206.97 199.80,206.96 200.41,206.95 201.02,206.94 201.63,206.94 202.25,206.93 202.86,206.92 203.47,206.91 204.09,206.90 204.70,206.89 205.31,206.88 205.93,206.87 206.54,206.86 207.15,206.85 207.76,206.84 208.38,206.83 208.99,206.82 209.60,206.81 210.22,206.80 210.83,206.79 211.44,206.78 212.05,206.77 212.67,206.76 213.28,206.74 213.89,206.73 214.51,206.72 215.12,206.71 215.73,206.69 216.35,206.68 216.96,206.67 217.57,206.65 218.18,206.64 218.80,206.63 219.41,206.61 220.02,206.60 220.64,206.58 221.25,206.57 221.86,206.55 222.48,206.54 223.09,206.52 223.70,206.50 224.31,206.49 224.93,206.47 225.54,206.45 226.15,206.43 226.77,206.41 227.38,206.40 227.99,206.38 228.61,206.36 229.22,206.34 229.83,206.32 230.44,206.30 231.06,206.27 231.67,206.25 232.28,206.23 232.90,206.21 233.51,206.18 234.12,206.16 234.74,206.14 235.35,206.11 235.96,206.09 236.57,206.06 237.19,206.03 237.80,206.01 238.41,205.98 239.03,205.95 239.64,205.92 240.25,205.89 240.86,205.86 241.48,205.83 242.09,205.80 242.70,205.77 243.32,205.74 243.93,205.70 244.54,205.67 245.16,205.63 245.77,205.60 246.38,205.56 246.99,205.52 247.61,205.48 248.22,205.44 248.83,205.40 249.45,205.36 250.06,205.32 250.67,205.28 251.29,205.23 251.90,205.19 252.51,205.14 253.12,205.09 253.74,205.04 254.35,204.99 254.96,204.94 255.58,204.89 256.19,204.84 256.80,204.78 257.42,204.73 258.03,204.67 258.64,204.61 259.25,204.55 259.87,204.49 260.48,204.43 261.09,204.36 261.71,204.30 262.32,204.23 262.93,204.16 263.55,204.09 264.16,204.01 264.77,203.94 265.38,203.86 266.00,203.78 266.61,203.70 267.22,203.62 267.84,203.54 268.45,203.45 269.06,203.36 269.67,203.27 270.29,203.18 270.90,203.08 271.51,202.98 272.13,202.88 272.74,202.78 273.35,202.67 273.97,202.57 274.58,202.45 275.19,202.34 275.80,202.22 276.42,202.10 277.03,201.98 277.64,201.85 278.26,201.73 278.87,201.59 279.48,201.46 280.10,201.32 280.71,201.17 281.32,201.03 281.93,200.88 282.55,200.72 283.16,200.57 283.77,200.40 284.39,200.24 285.00,200.07 285.61,199.89 286.23,199.71 286.84,199.53 287.45,199.34 288.06,199.15 288.68,198.95 289.29,198.75 289.90,198.54 290.52,198.33 291.13,198.11 291.74,197.89 292.36,197.66 292.97,197.42 293.58,197.18 294.19,196.94 294.81,196.68 295.42,196.42 296.03,196.16 296.65,195.89 297.26,195.61 297.87,195.33 298.48,195.04 299.10,194.74 299.71,194.44 300.32,194.13 300.94,193.81 301.55,193.49 302.16,193.15 302.78,192.81 303.39,192.47 304.00,192.11 304.61,191.75 305.23,191.38 305.84,191.01 306.45,190.63 307.07,190.23 307.68,189.84 308.29,189.43 308.91,189.02 309.52,188.59 310.13,188.17 310.74,187.73 311.36,187.29 311.97,186.84 312.58,186.38 313.20,185.91 313.81,185.44 314.42,184.96 315.04,184.48 315.65,183.99 316.26,183.49 316.87,182.99 317.49,182.48 318.10,181.97 318.71,181.45 319.33,180.92 319.94,180.40 320.55,179.87 321.17,179.33 321.78,178.80 322.39,178.26 323.00,177.72 323.62,177.17 324.23,176.63 324.84,176.09 325.46,175.55 326.07,175.01 326.68,174.47 327.29,173.93 327.91,173.40 328.52,172.87 329.13,172.35 329.75,171.83 330.36,171.32 330.97,170.82 331.59,170.33 332.20,169.84 332.81,169.37 333.42,168.90 334.04,168.45 334.65,168.01 335.26,167.59 335.88,167.17 336.49,166.78 337.10,166.40 337.72,166.04 338.33,165.69 338.94,165.37 339.55,165.06 340.17,164.77 340.78,164.50 341.39,164.26 342.01,164.04 342.62,163.84 343.23,163.66 343.85,163.50 344.46,163.37 345.07,163.26 345.68,163.18 346.30,163.12 346.91,163.09 347.52,163.08 348.14,163.10 348.75,163.14 349.36,163.20 349.98,163.29 350.59,163.41 351.20,163.54 351.81,163.71 352.43,163.89 353.04,164.10 353.65,164.33 354.27,164.58 354.88,164.85 355.49,165.14 356.10,165.46 356.72,165.79 357.33,166.14 357.94,166.51 358.56,166.89 359.17,167.29 359.78,167.71 360.40,168.14 361.01,168.58 361.62,169.03 362.23,169.50 362.85,169.98 363.46,170.47 364.07,170.96 364.69,171.47 365.30,171.98 365.91,172.50 366.53,173.02 367.14,173.55 367.75,174.09 368.36,174.62 368.98,175.16 369.59,175.70 370.20,176.24 370.82,176.79 371.43,177.33 372.04,177.87 372.66,178.41 373.27,178.95 373.88,179.49 374.49,180.02 375.11,180.55 375.72,181.07 376.33,181.60 376.95,182.11 377.56,182.63 378.17,183.13 378.79,183.63 379.40,184.13 380.01,184.62 380.62,185.10 381.24,185.58 381.85,186.05 382.46,186.51 383.08,186.97 383.69,187.41 384.30,187.86 384.91,188.29 385.53,188.72 386.14,189.13 386.75,189.55 387.37,189.95 387.98,190.35 388.59,190.74 389.21,191.12 389.82,191.49 390.43,191.86 391.04,192.22 391.66,192.57 392.27,192.91 392.88,193.25 393.50,193.58 394.11,193.90 394.72,194.22 395.34,194.53 395.95,194.83 396.56,195.12 397.17,195.41 397.79,195.69 398.40,195.97 399.01,196.24 399.63,196.50 400.24,196.76 400.85,197.01 401.47,197.25 402.08,197.49 402.69,197.72 403.30,197.95 403.92,198.17 404.53,198.39 405.14,198.60 405.76,198.81 406.37,199.01 406.98,199.20 407.60,199.40 408.21,199.58 408.82,199.77 409.43,199.94 410.05,200.12 410.66,200.29 411.27,200.45 411.89,200.61 412.50,200.77 413.11,200.92 413.72,201.07 414.34,201.22 414.95,201.36 415.56,201.50 416.18,201.63 416.79,201.76 417.40,201.89 418.02,202.02 418.63,202.14 419.24,202.26 419.85,202.37 420.47,202.49 421.08,202.60 421.69,202.70 422.31,202.81 422.92,202.91 423.53,203.01 424.15,203.11 424.76,203.20 425.37,203.30 425.98,203.39 426.60,203.48 427.21,203.56 427.82,203.65 428.44,203.73 429.05,203.81 429.66,203.89 430.28,203.96 430.89,204.04 431.50,204.11 432.11,204.18 432.73,204.25 433.34,204.32 433.95,204.38 434.57,204.45 435.18,204.51 435.79,204.57 436.41,204.63 437.02,204.69 437.63,204.74 438.24,204.80 438.86,204.85 439.47,204.91 440.08,204.96 440.70,205.01 441.31,205.06 441.92,205.11 442.53,205.15 443.15,205.20 443.76,205.24 444.37,205.29 444.99,205.33 445.60,205.37 446.21,205.41 446.83,205.45 447.44,205.49 448.05,205.53 448.66,205.57 449.28,205.61 449.89,205.64 450.50,205.68 451.12,205.71 451.73,205.74 452.34,205.78 452.96,205.81 453.57,205.84 454.18,205.87 454.79,205.90 455.41,205.93 456.02,205.96 456.63,205.99 457.25,206.01 457.86,206.04 458.47,206.07 459.09,206.09 459.70,206.12 460.31,206.14 460.92,206.17 461.54,206.19 462.15,206.21 462.76,206.24 463.38,206.26 463.99,206.28 464.60,206.30 465.22,206.32 465.83,206.34 466.44,206.36 467.05,206.38 467.67,206.40 468.28,206.42 468.89,206.44 469.51,206.46 470.12,206.47 470.73,206.49 471.34,206.51 471.96,206.52 472.57,206.54 473.18,206.56 473.80,206.57 474.41,206.59 475.02,206.60 475.64,206.62 476.25,206.63 476.86,206.64 477.47,206.66 478.09,206.67 478.70,206.69 479.31,206.70 479.93,206.71 480.54,206.72 481.15,206.74 481.77,206.75 482.38,206.76 482.99,206.77 483.60,206.78 484.22,206.79 484.83,206.81 485.44,206.82 486.06,206.83 486.67,206.84 487.28,206.85 487.90,206.86 488.51,206.87 489.12,206.88 489.73,206.89 490.35,206.89 490.96,206.90 491.57,206.91 492.19,206.92 492.80,206.93 493.41,206.94 494.03,206.95 494.64,206.96 495.25,206.96 495.86,206.97 496.48,206.98 497.09,206.99 497.70,206.99 498.32,207.00 498.93,207.01 499.54,207.02 500.15,207.02 500.77,207.03 501.38,207.04 501.99,207.04 502.61,207.05 503.22,207.06 503.83,207.06 504.45,207.07 505.06,207.07 505.67,207.08 506.28,207.09 506.90,207.09 507.51,207.10 508.12,207.10 508.74,207.11 509.35,207.11 509.96,207.12 510.58,207.12 511.19,207.13 511.80,207.13 512.41,207.14 513.03,207.14 513.64,207.15 514.25,207.15 514.87,207.16 515.48,207.16 516.09,207.17 516.71,207.17 517.32,207.18 517.93,207.18 518.54,207.18 519.16,207.19 519.77,207.19 520.38,207.20 521.00,207.20 521.61,207.20 522.22,207.21 522.84,207.21 523.45,207.21 524.06,207.22 524.67,207.22 525.29,207.23 525.90,207.23 526.51,207.23 527.13,207.24 527.74,207.24 528.35,207.24 528.96,207.25 529.58,207.25 530.19,207.25 530.80,207.25 531.42,207.26 532.03,207.26 532.64,207.26 533.26,207.27 533.87,207.27 534.48,207.27 535.09,207.27 535.71,207.28 536.32,207.28 536.93,207.28 537.55,207.29 538.16,207.29 538.77,207.29 539.39,207.29 540.00,207.30 540.61,207.30 541.22,207.30 541.84,207.30 542.45,207.30 543.06,207.31 543.68,207.31 544.29,207.31 544.90,207.31 545.52,207.32 546.13,207.32 546.74,207.32 547.35,207.32 547.97,207.32 548.58,207.33 549.19,207.33 549.81,207.33 550.42,207.33 551.03,207.33 551.65,207.34 552.26,207.34 552.87,207.34 553.48,207.34 554.10,207.34 554.71,207.34 555.32,207.35 555.94,207.35 556.55,207.35 557.16,207.35 557.77,207.35 558.39,207.35 559.00,207.36 559.61,207.36 560.23,207.36 560.84,207.36 561.45,207.36 562.07,207.36 562.68,207.37 563.29,207.37 563.90,207.37 564.52,207.37 565.13,207.37 565.74,207.37 566.36,207.37 566.97,207.38 567.58,207.38 568.20,207.38 568.81,207.38 569.42,207.38 570.03,207.38 570.65,207.38 571.26,207.38 571.87,207.39 572.49,207.39 573.10,207.39 573.71,207.39 574.33,207.39 574.94,207.39 575.55,207.39 576.16,207.39 576.78,207.39 577.39,207.40 578.00,207.40 578.62,207.40 579.23,207.40 579.84,207.40 580.46,207.40 581.07,207.40 581.68,207.40 582.29,207.40 582.91,207.40 583.52,207.41 584.13,207.41 584.75,207.41 585.36,207.41 585.97,207.41 586.58,207.41 587.20,207.41 587.81,207.41 588.42,207.41 589.04,207.41 589.65,207.41 590.26,207.41 590.88,207.42 591.49,207.42 592.10,207.42 592.71,207.42 593.33,207.42 593.94,207.42 594.55,207.42 595.17,207.42 595.78,207.42 596.39,207.42 597.01,207.42 597.62,207.42 598.23,207.42 598.84,207.43 599.46,207.43 600.07,207.43 600.68,207.43 601.30,207.43 601.91,207.43 602.52,207.43 603.14,207.43 603.75,207.43 604.36,207.43 604.97,207.43 605.59,207.43 606.20,207.43 606.81,207.43 607.43,207.43 608.04,207.44 608.65,207.44 609.27,207.44 609.88,207.44 610.49,207.44 611.10,207.44 611.72,207.44 612.33,207.44 612.94,207.44 613.56,207.44 614.17,207.44 614.78,207.44 615.39,207.44 616.01,207.44 616.62,207.44 617.23,207.44 617.85,207.44 618.46,207.44 619.07,207.44 619.69,207.45 620.30,207.45 620.91,207.45 621.52,207.45 622.14,207.45 622.75,207.45 623.36,207.45 623.98,207.45 624.59,207.45 625.20,207.45 625.82,207.45 626.43,207.45 627.04,207.45 627.65,207.45 628.27,207.45 628.88,207.45 629.49,207.45 630.11,207.45 630.72,207.45 631.33,207.45 631.95,207.45 632.56,207.45 633.17,207.45 633.78,207.45 634.40,207.46 635.01,207.46 635.62,207.46 636.24,207.46 636.85,207.46 637.46,207.46 638.08,207.46 638.69,207.46 639.30,207.46 639.91,207.46 640.53,207.46 641.14,207.46 641.75,207.46 642.37,207.46 642.98,207.46 643.59,207.46 644.20,207.46 644.82,207.46 645.43,207.46 646.04,207.46 646.66,207.46 647.27,207.46 647.88,207.46 648.50,207.46 649.11,207.46 649.72,207.46 650.33,207.46 650.95,207.46 651.56,207.46 652.17,207.46 652.79,207.46 653.40,207.47 654.01,207.47" fill="none" stroke="#11cc11" stroke-width="1.6"/>
<polyline points="41.46,410.71 42.99,410.60 44.52,410.48 46.05,410.36 47.58,410.24 49.11,410.13 50.64,410.01 52.17,409.89 53.70,409.77 55.23,409.65 56.76,409.53 58.29,409.42 59.82,409.30 61.35,409.18 62.88,409.06 64.41,408.94 65.94,408.81 67.47,408.69 69.00,408.57 70.53,408.45 72.06,408.33 73.59,408.21 75.12,408.09 76.65,407.96 78.18,407.84 79.71,407.72 81.24,407.60 82.77,407.47 84.30,407.35 85.83,407.23 87.36,407.10 88.89,406.98 90.42,406.86 91.95,406.73 93.48,406.61 95.01,406.49 96.54,406.36 98.07,406.24 99.60,406.11 101.13,405.99 102.66,405.86 104.19,405.74 105.72,405.61 107.25,405.49 108.78,405.36 110.31,405.24 111.84,405.12 113.37,404.99 114.90,404.87 116.43,404.74 117.96,404.62 119.49,404.49 121.02,404.37 122.55,404.24 124.08,404.12 125.61,403.99 127.14,403.87 128.67,403.74 130.20,403.62 131.73,403.49 133.26,403.37 134.79,403.25 136.32,403.12 137.85,403.00 139.38,402.87 140.91,402.75 142.44,402.63 143.97,402.50 145.50,402.38 147.03,402.26 148.56,402.14 150.09,402.01 151.62,401.89 153.15,401.77 154.68,401.65 156.21,401.53 157.74,401.41 159.27,401.28 160.80,401.16 162.33,401.04 163.86,400.92 165.39,400.80 166.92,400.68 168.45,400.57 169.98,400.45 171.51,400.33 173.04,400.21 174.57,400.09 176.10,399.98 177.63,399.86 179.16,399.74 180.69,399.63 182.22,399.51 183.75,399.40 185.28,399.28 186.81,399.17 188.34,399.06 189.87,398.95 191.40,398.83 192.93,398.72 194.46,398.61 195.99,398.50 197.52,398.39 199.05,398.28 200.58,398.17 202.11,398.06 203.64,397.96 205.17,397.85 206.70,397.74 208.23,397.64 209.76,397.53 211.29,397.43 212.82,397.33 214.35,397.22 215.88,397.12 217.41,397.02 218.94,396.92 220.47,396.82 222.00,396.72 223.53,396.63 225.06,396.53 226.59,396.43 228.12,396.34 229.65,396.24 231.18,396.15 232.71,396.06 234.24,395.96 235.77,395.87 237.30,395.78 238.83,395.69 240.36,395.60 241.89,395.52 243.42,395.43 244.95,395.35 246.48,395.26 248.01,395.18 249.54,395.09 251.07,395.01 252.60,394.93 254.13,394.85 255.66,394.78 257.19,394.70 258.72,394.62 260.25,394.55 261.78,394.47 263.31,394.40 264.84,394.33 266.37,394.26 267.90,394.19 269.43,394.12 270.96,394.05 272.49,393.99 274.02,393.92 275.55,393.86 277.08,393.79 278.61,393.73 280.14,393.67 281.67,393.61 283.20,393.56 284.73,393.50 286.26,393.44 287.79,393.39 289.32,393.34 290.85,393.29 292.38,393.24 293.91,393.19 295.44,393.14 296.97,393.09 298.50,393.05 300.03,393.00 301.56,392.96 303.09,392.92 304.63,392.88 306.16,392.84 307.69,392.80 309.22,392.77 310.75,392.73 312.28,392.70 313.81,392.67 315.34,392.64 316.87,392.61 318.40,392.58 319.93,392.56 321.46,392.53 322.99,392.51 324.52,392.49 326.05,392.47 327.58,392.45 329.11,392.43 330.64,392.41 332.17,392.40 333.70,392.38 335.23,392.37 336.76,392.36 338.29,392.35 339.82,392.34 341.35,392.34 342.88,392.33 344.41,392.33 345.94,392.32 347.47,392.32 349.00,392.32 350.53,392.33 352.06,392.33 353.59,392.33 355.12,392.34 356.65,392.35 358.18,392.36 359.71,392.37 361.24,392.38 362.77,392.39 364.30,392.41 365.83,392.42 367.36,392.44 368.89,392.46 370.42,392.48 371.95,392.50 373.48,392.52 375.01,392.55 376.54,392.57 378.07,392.60 379.60,392.63 381.13,392.66 382.66,392.69 384.19,392.72 385.72,392.76 387.25,392.79 388.78,392.83 390.31,392.87 391.84,392.91 393.37,392.95 394.90,392.99 396.43,393.03 397.96,393.08 399.49,393.13 401.02,393.17 402.55,393.22 404.08,393.27 405.61,393.32 407.14,393.37 408.67,393.43 410.20,393.48 411.73,393.54 413.26,393.60 414.79,393.66 416.32,393.72 417.85,393.78 419.38,393.84 420.91,393.90 422.44,393.97 423.97,394.03 425.50,394.10 427.03,394.17 428.56,394.24 430.09,394.31 431.62,394.38 433.15,394.45 434.68,394.53 436.21,394.60 437.74,394.68 439.27,394.75 440.80,394.83 442.33,394.91 443.86,394.99 445.39,395.07 446.92,395.15 448.45,395.24 449.98,395.32 451.51,395.41 453.04,395.49 454.57,395.58 456.10,395.67 457.63,395.76 459.16,395.85 460.69,395.94 462.22,396.03 463.75,396.12 465.28,396.21 466.81,396.31 468.34,396.40 469.87,396.50 471.40,396.60 472.93,396.70 474.46,396.79 475.99,396.89 477.52,396.99 479.05,397.09 480.58,397.20 482.11,397.30 483.64,397.40 485.17,397.50 486.70,397.61 488.23,397.71 489.76,397.82 491.29,397.93 492.82,398.03 494.35,398.14 495.88,398.25 497.41,398.36 498.94,398.47 500.47,398.58 502.00,398.69 503.53,398.80 505.06,398.91 506.59,399.03 508.12,399.14 509.65,399.25 511.18,399.37 512.71,399.48 514.24,399.60 515.77,399.71 517.30,399.83 518.83,399.94 520.36,400.06 521.89,400.18 523.42,400.30 524.95,400.41 526.48,400.53 528.01,400.65 529.54,400.77 531.07,400.89 532.60,401.01 534.13,401.13 535.66,401.25 537.19,401.37 538.72,401.49 540.25,401.61 541.78,401.73 543.31,401.86 544.84,401.98 546.37,402.10 547.90,402.22 549.43,402.35 550.96,402.47 552.49,402.59 554.02,402.72 555.55,402.84 557.08,402.96 558.61,403.09 560.14,403.21 561.67,403.33 563.20,403.46 564.73,403.58 566.26,403.71 567.79,403.83 569.32,403.96 570.85,404.08 572.38,404.21 573.91,404.33 575.44,404.46 576.97,404.58 578.50,404.71 580.03,404.83 581.56,404.95 583.09,405.08 584.62,405.20 586.15,405.33 587.68,405.45 589.21,405.58 590.74,405.70 592.27,405.83 593.80,405.95 595.33,406.08 596.86,406.20 598.39,406.33 599.92,406.45 601.45,406.57 602.98,406.70 604.51,406.82 606.04,406.95 607.57,407.07 609.10,407.19 610.63,407.32 612.16,407.44 613.69,407.56 615.22,407.68 616.75,407.81 618.28,407.93 619.81,408.05 621.34,408.17 622.87,408.30 624.40,408.42 625.93,408.54 627.46,408.66 628.99,408.78 630.52,408.90 632.05,409.02 633.58,409.14 635.11,409.26 636.64,409.38 638.17,409.50 639.70,409.62 641.23,409.74 642.76,409.86 644.29,409.98 645.82,410.09 647.35,410.21 648.88,410.33 650.41,410.45 651.94,410.56 653.47,410.68" fill="none" stroke="#00d800" stroke-width="1.6"/>
<rect x="42.00" y="493.00" width="611.00" height="1.00" fill="#b02020"/>
</g>
<g>
<text x="88.92" y="238.90" font-size="14.6" font-family="Liberation Serif, serif" font-weight="normal" textLength="42.74" lengthAdjust="spacing" stroke="#000" stroke-width="1.0">10200</text>
<text x="217.67" y="238.90" font-size="14.6" font-family="Liberation Serif, serif" font-weight="normal" textLength="42.74" lengthAdjust="spacing" stroke="#000" stroke-width="1.0">10300</text>
<text x="346.42" y="238.90" font-size="14.6" font-family="Liberation Serif, serif" font-weight="normal" textLength="42.74" lengthAdjust="spacing" stroke="#000" stroke-width="1.0">10400</text>
<text x="475.17" y="238.90" font-size="14.6" font-family="Liberation Serif, serif" font-weight="normal" textLength="42.74" lengthAdjust="spacing" stroke="#000" stroke-width="1.0">10500</text>
<text x="603.92" y="238.90" font-size="14.6" font-family="Liberation Serif, serif" font-weight="normal" textLength="42.74" lengthAdjust="spacing" stroke="#000" stroke-width="1.0">10600</text>
<text x="134.92" y="520.00" font-size="14.6" font-family="Liberation Serif, serif" font-weight="normal" textLength="42.74" lengthAdjust="spacing" stroke="#000" stroke-width="1.0">10370</text>
<text x="263.79" y="520.00" font-size="14.6" font-family="Liberation Serif, serif" font-weight="normal" textLength="42.74" lengthAdjust="spacing" stroke="#000" stroke-width="1.0">10380</text>
<text x="392.66" y="520.00" font-size="14.6" font-family="Liberation Serif, serif" font-weight="normal" textLength="42.74" lengthAdjust="spacing" stroke="#000" stroke-width="1.0">10390</text>
<text x="521.53" y="520.00" font-size="14.6" font-family="Liberation Serif, serif" font-weight="normal" textLength="42.74" lengthAdjust="spacing" stroke="#000" stroke-width="1.0">10400</text>
<text x="-211.62" y="0" transform="translate(33.10,0) rotate(-90)" font-size="14.6" font-family="Liberation Serif, serif" font-weight="normal" textLength="7.81" lengthAdjust="spacingAndGlyphs" stroke="#000" stroke-width="1.0">1</text>
<text x="-183.98" y="0" transform="translate(33.10,0) rotate(-90)" font-size="14.6" font-family="Liberation Serif, serif" font-weight="normal" textLength="46.45" lengthAdjust="spacing" stroke="#000" stroke-width="1.0">1.0005</text>
<text x="-132.33" y="0" transform="translate(33.10,0) rotate(-90)" font-size="14.6" font-family="Liberation Serif, serif" font-weight="normal" textLength="37.66" lengthAdjust="spacing" stroke="#000" stroke-width="1.0">1.001</text>
<text x="-89.78" y="0" transform="translate(33.10,0) rotate(-90)" font-size="14.6" font-family="Liberation Serif, serif" font-weight="normal" textLength="46.45" lengthAdjust="spacing" stroke="#000" stroke-width="1.0">1.0015</text>
<text x="-38.13" y="0" transform="translate(33.10,0) rotate(-90)" font-size="14.6" font-family="Liberation Serif, serif" font-weight="normal" textLength="37.59" lengthAdjust="spacing" stroke="#000" stroke-width="1.0">1.002</text>
<text x="-413.43" y="0" transform="translate(33.10,0) rotate(-90)" font-size="14.6" font-family="Liberation Serif, serif" font-weight="normal" textLength="46.45" lengthAdjust="spacing" stroke="#000" stroke-width="1.0">1.0005</text>
<text x="-365.43" y="0" transform="translate(33.10,0) rotate(-90)" font-size="14.6" font-family="Liberation Serif, serif" font-weight="normal" textLength="37.66" lengthAdjust="spacing" stroke="#000" stroke-width="1.0">1.001</text>
<text x="-326.53" y="0" transform="translate(33.10,0) rotate(-90)" font-size="14.6" font-family="Liberation Serif, serif" font-weight="normal" textLength="46.45" lengthAdjust="spacing" stroke="#000" stroke-width="1.0">1.0015</text>
<text x="-278.53" y="0" transform="translate(33.10,0) rotate(-90)" font-size="14.6" font-family="Liberation Serif, serif" font-weight="normal" textLength="37.59" lengthAdjust="spacing" stroke="#000" stroke-width="1.0">1.002</text>
<text x="-503.03" y="0" transform="translate(33.30,0) rotate(-90)" font-size="15" font-family="Liberation Serif, serif" font-weight="bold" textLength="13.57" lengthAdjust="spacingAndGlyphs" stroke="#000" stroke-width="0.8">0</text>
<text x="-501.95" y="0" transform="translate(33.30,0) rotate(-90)" font-size="14" font-family="Liberation Serif, serif" font-weight="bold" textLength="11.81" lengthAdjust="spacingAndGlyphs" stroke="#000" stroke-width="0.6">5</text>
<text x="-491.57" y="0" transform="translate(32.50,0) rotate(-90)" font-size="17" font-family="Liberation Serif, serif" font-weight="bold" textLength="8.21" lengthAdjust="spacingAndGlyphs" stroke="#000" stroke-width="1.0">×</text>
<text x="-483.82" y="0" transform="translate(33.30,0) rotate(-90)" font-size="15" font-family="Liberation Serif, serif" font-weight="bold" textLength="22.68" lengthAdjust="spacingAndGlyphs" stroke="#000" stroke-width="0.8">10</text>
<text x="-479.72" y="0" transform="translate(33.30,0) rotate(-90)" font-size="15" font-family="Liberation Serif, serif" font-weight="bold" textLength="21.51" lengthAdjust="spacingAndGlyphs" stroke="#000" stroke-width="0.8">15</text>
<text x="-459.84" y="0" transform="translate(32.00,0) rotate(-90)" font-size="18" font-family="Liberation Serif, serif" font-weight="bold" textLength="10.26" lengthAdjust="spacingAndGlyphs" stroke="#000" stroke-width="1.1">×</text>
<text x="-453.07" y="0" transform="translate(24.50,0) rotate(-90)" font-size="10" font-family="Liberation Serif, serif" font-weight="bold" textLength="7.09" lengthAdjust="spacingAndGlyphs" stroke="#000" stroke-width="0.5">5</text>
<text x="-448.70" y="0" transform="translate(33.30,0) rotate(-90)" font-size="15" font-family="Liberation Serif, serif" font-weight="bold" textLength="7.47" lengthAdjust="spacingAndGlyphs" stroke="#000" stroke-width="0.7">1</text>
<text x="-440.72" y="0" transform="translate(33.30,0) rotate(-90)" font-size="15" font-family="Liberation Serif, serif" font-weight="normal" textLength="9.44" lengthAdjust="spacingAndGlyphs" stroke="#000" stroke-width="0.7">0</text>
<text x="-432.30" y="0" transform="translate(24.00,0) rotate(-90)" font-size="10" font-family="Liberation Serif, serif" font-weight="normal" textLength="9.09" lengthAdjust="spacingAndGlyphs" stroke="#000" stroke-width="0.5">−</text>
<text x="-423.54" y="0" transform="translate(25.50,0) rotate(-90)" font-size="10" font-family="Liberation Serif, serif" font-weight="normal" textLength="7.08" lengthAdjust="spacingAndGlyphs" stroke="#000" stroke-width="0.5">8</text>
<text x="-205.42" y="0" transform="translate(11.60,0) rotate(-90) scale(0.8,1)" font-size="14.5" font-family="Liberation Serif, serif" font-weight="normal" textLength="123.14" lengthAdjust="spacing" stroke="#000" stroke-width="1.1">Magnification</text>
<text x="-496.36" y="0" transform="translate(11.60,0) rotate(-90) scale(0.8,1)" font-size="14.5" font-family="Liberation Serif, serif" font-weight="normal" textLength="123.14" lengthAdjust="spacing" stroke="#000" stroke-width="1.1">Magnification</text>
<text x="-482.69" y="0" transform="translate(11.00,0) rotate(-90)" font-size="14" font-family="Liberation Serif, serif" font-weight="bold" textLength="17.79" lengthAdjust="spacing" stroke="#000" stroke-width="0.6">ΔA</text>
<text x="291.78" y="547.26" font-size="14.14" font-family="Liberation Serif, serif" font-weight="bold" textLength="26.27" lengthAdjust="spacingAndGlyphs" stroke="#000" stroke-width="0.5">HJD</text>
<text x="325.03" y="547.80" font-size="14.5" font-family="Liberation Serif, serif" font-weight="normal" textLength="11.03" lengthAdjust="spacingAndGlyphs" stroke="#000" stroke-width="0.3">−</text>
<text x="343.19" y="546.77" font-size="13.19" font-family="Liberation Serif, serif" font-weight="bold" textLength="59.46" lengthAdjust="spacingAndGlyphs" stroke="#000" stroke-width="0.6">2450000</text>
<text x="530.87" y="25.60" font-size="14.81" font-family="Liberation Serif, serif" font-weight="bold" textLength="44.82" lengthAdjust="spacingAndGlyphs" stroke="#000" stroke-width="0.5">PRIME</text>
<text x="574.77" y="24.90" font-size="14.5" font-family="Liberation Serif, serif" font-weight="bold" textLength="11.15" lengthAdjust="spacingAndGlyphs" stroke="#000" stroke-width="0.2">-</text>
<text x="585.75" y="25.60" font-size="14.81" font-family="Liberation Serif, serif" font-weight="bold" textLength="11.39" lengthAdjust="spacingAndGlyphs" stroke="#000" stroke-width="0.5">H</text>
<text x="113.81" y="25.60" font-size="15" font-family="Liberation Serif, serif" font-weight="normal" textLength="38.66" lengthAdjust="spacing" stroke="#000" stroke-width="0.8">4.498</text>
<text x="96.43" y="25.25" font-size="11.6" font-family="Liberation Serif, serif" font-weight="normal" textLength="10.42" lengthAdjust="spacingAndGlyphs" stroke="#000" stroke-width="0.8">=</text>
<text x="108.68" y="38.42" font-size="15" font-family="Liberation Serif, serif" font-weight="normal" textLength="90.87" lengthAdjust="spacing" stroke="#000" stroke-width="0.8">10384.88196</text>
<text x="90.43" y="38.07" font-size="11.6" font-family="Liberation Serif, serif" font-weight="normal" textLength="10.42" lengthAdjust="spacingAndGlyphs" stroke="#000" stroke-width="0.8">=</text>
<text x="109.25" y="51.24" font-size="15" font-family="Liberation Serif, serif" font-weight="normal" textLength="32.57" lengthAdjust="spacing" stroke="#000" stroke-width="0.8">−5.0</text>
<text x="91.43" y="50.89" font-size="11.6" font-family="Liberation Serif, serif" font-weight="normal" textLength="10.42" lengthAdjust="spacingAndGlyphs" stroke="#000" stroke-width="0.8">=</text>
<text x="104.01" y="64.06" font-size="15" font-family="Liberation Serif, serif" font-weight="normal" textLength="65.31" lengthAdjust="spacing" stroke="#000" stroke-width="0.8">7.946670</text>
<text x="87.33" y="63.71" font-size="11.6" font-family="Liberation Serif, serif" font-weight="normal" textLength="10.42" lengthAdjust="spacingAndGlyphs" stroke="#000" stroke-width="0.8">=</text>
<text x="104.73" y="76.88" font-size="15" font-family="Liberation Serif, serif" font-weight="normal" textLength="100.84" lengthAdjust="spacing" stroke="#000" stroke-width="0.8">0.000000e+00</text>
<text x="86.43" y="76.53" font-size="11.6" font-family="Liberation Serif, serif" font-weight="normal" textLength="10.42" lengthAdjust="spacingAndGlyphs" stroke="#000" stroke-width="0.8">=</text>
<text x="103.83" y="89.70" font-size="15" font-family="Liberation Serif, serif" font-weight="normal" textLength="64.24" lengthAdjust="spacing" stroke="#000" stroke-width="0.8">0.000000</text>
<text x="85.78" y="89.35" font-size="11.6" font-family="Liberation Serif, serif" font-weight="normal" textLength="10.42" lengthAdjust="spacingAndGlyphs" stroke="#000" stroke-width="0.8">=</text>
<text x="103.83" y="102.52" font-size="15" font-family="Liberation Serif, serif" font-weight="normal" textLength="64.24" lengthAdjust="spacing" stroke="#000" stroke-width="0.8">0.000000</text>
<text x="86.53" y="102.17" font-size="11.6" font-family="Liberation Serif, serif" font-weight="normal" textLength="10.42" lengthAdjust="spacingAndGlyphs" stroke="#000" stroke-width="0.8">=</text>
<text x="103.83" y="115.34" font-size="15" font-family="Liberation Serif, serif" font-weight="normal" textLength="64.24" lengthAdjust="spacing" stroke="#000" stroke-width="0.8">0.000000</text>
<text x="86.53" y="114.99" font-size="11.6" font-family="Liberation Serif, serif" font-weight="normal" textLength="10.42" lengthAdjust="spacingAndGlyphs" stroke="#000" stroke-width="0.8">=</text>
<text x="105.43" y="128.16" font-size="15" font-family="Liberation Serif, serif" font-weight="normal" textLength="63.89" lengthAdjust="spacing" stroke="#000" stroke-width="0.8">0.000000</text>
<text x="87.63" y="127.81" font-size="11.6" font-family="Liberation Serif, serif" font-weight="normal" textLength="10.42" lengthAdjust="spacingAndGlyphs" stroke="#000" stroke-width="0.8">=</text>
<text x="103.53" y="140.98" font-size="15" font-family="Liberation Serif, serif" font-weight="normal" textLength="64.54" lengthAdjust="spacing" stroke="#000" stroke-width="0.8">0.000000</text>
<text x="85.78" y="140.63" font-size="11.6" font-family="Liberation Serif, serif" font-weight="normal" textLength="10.42" lengthAdjust="spacingAndGlyphs" stroke="#000" stroke-width="0.8">=</text>
<text x="103.53" y="153.80" font-size="15" font-family="Liberation Serif, serif" font-weight="normal" textLength="101.04" lengthAdjust="spacing" stroke="#000" stroke-width="0.8">0.000000e+00</text>
<text x="86.43" y="153.45" font-size="11.6" font-family="Liberation Serif, serif" font-weight="normal" textLength="10.42" lengthAdjust="spacingAndGlyphs" stroke="#000" stroke-width="0.8">=</text>
<text x="102.53" y="166.62" font-size="15" font-family="Liberation Serif, serif" font-weight="normal" textLength="64.34" lengthAdjust="spacing" stroke="#000" stroke-width="0.8">0.000000</text>
<text x="84.53" y="166.27" font-size="11.6" font-family="Liberation Serif, serif" font-weight="normal" textLength="10.42" lengthAdjust="spacingAndGlyphs" stroke="#000" stroke-width="0.8">=</text>
<text x="105.68" y="179.44" font-size="15" font-family="Liberation Serif, serif" font-weight="normal" textLength="63.89" lengthAdjust="spacing" stroke="#000" stroke-width="0.8">0.000000</text>
<text x="87.33" y="179.09" font-size="11.6" font-family="Liberation Serif, serif" font-weight="normal" textLength="10.42" lengthAdjust="spacingAndGlyphs" stroke="#000" stroke-width="0.8">=</text>
<text x="57.55" y="25.42" font-size="13.54" font-family="Liberation Serif, serif" font-weight="bold" textLength="7.01" lengthAdjust="spacingAndGlyphs" stroke="#000" stroke-width="0.5">χ</text>
<text x="56.60" y="102.08" font-size="12.55" font-family="Liberation Serif, serif" font-weight="bold" textLength="8.81" lengthAdjust="spacingAndGlyphs" stroke="#000" stroke-width="0.5">θ</text>
<text x="55.15" y="114.77" font-size="13.78" font-family="Liberation Serif, serif" font-weight="bold" textLength="10.34" lengthAdjust="spacingAndGlyphs" stroke="#000" stroke-width="0.5">ρ</text>
<text x="57.62" y="128.07" font-size="13.44" font-family="Liberation Serif, serif" font-weight="bold" textLength="7.83" lengthAdjust="spacingAndGlyphs" stroke="#000" stroke-width="0.5">π</text>
<text x="57.25" y="140.41" font-size="13.1" font-family="Liberation Serif, serif" font-weight="bold" textLength="7.31" lengthAdjust="spacingAndGlyphs" stroke="#000" stroke-width="0.5">χ</text>
<text x="56.64" y="178.64" font-size="15.56" font-family="Liberation Serif, serif" font-weight="bold" textLength="9.87" lengthAdjust="spacingAndGlyphs" stroke="#000" stroke-width="0.5">φ</text>
<text x="56.98" y="38.03" font-size="17.81" font-family="Liberation Serif, serif" font-weight="normal" textLength="6.25" lengthAdjust="spacingAndGlyphs" stroke="#000" stroke-width="0.7">t</text>
<text x="56.98" y="51.03" font-size="17.81" font-family="Liberation Serif, serif" font-weight="normal" textLength="6.25" lengthAdjust="spacingAndGlyphs" stroke="#000" stroke-width="0.7">t</text>
<text x="57.77" y="64.84" font-size="16.0" font-family="Liberation Serif, serif" font-weight="normal" textLength="8.78" lengthAdjust="spacingAndGlyphs" stroke="#000" stroke-width="0.7">u</text>
<text x="56.14" y="77.32" font-size="12.61" font-family="Liberation Serif, serif" font-weight="normal" textLength="10.49" lengthAdjust="spacingAndGlyphs" stroke="#000" stroke-width="0.7">q</text>
<text x="56.00" y="89.27" font-size="13.1" font-family="Liberation Serif, serif" font-weight="normal" textLength="8.54" lengthAdjust="spacingAndGlyphs" stroke="#000" stroke-width="0.7">s</text>
<text x="56.19" y="153.35" font-size="15.28" font-family="Liberation Serif, serif" font-weight="normal" textLength="9.76" lengthAdjust="spacingAndGlyphs" stroke="#000" stroke-width="0.7">q</text>
<text x="55.91" y="166.46" font-size="14.24" font-family="Liberation Serif, serif" font-weight="normal" textLength="9.35" lengthAdjust="spacingAndGlyphs" stroke="#000" stroke-width="0.7">s</text>
<text x="64.64" y="18.10" font-size="9.82" font-family="Liberation Serif, serif" font-weight="bold" textLength="6.63" lengthAdjust="spacingAndGlyphs" stroke="#000" stroke-width="0.4">2</text>
<text x="64.13" y="42.32" font-size="8.6" font-family="Liberation Serif, serif" font-weight="bold" textLength="6.13" lengthAdjust="spacingAndGlyphs" stroke="#000" stroke-width="0.4">0</text>
<text x="63.77" y="56.05" font-size="8.02" font-family="Liberation Serif, serif" font-weight="bold" textLength="7.19" lengthAdjust="spacingAndGlyphs" stroke="#000" stroke-width="0.4">E</text>
<text x="65.88" y="68.32" font-size="8.45" font-family="Liberation Serif, serif" font-weight="bold" textLength="7.49" lengthAdjust="spacingAndGlyphs" stroke="#000" stroke-width="0.4">0</text>
<text x="65.60" y="133.30" font-size="7.94" font-family="Liberation Serif, serif" font-weight="bold" textLength="7.91" lengthAdjust="spacingAndGlyphs" stroke="#000" stroke-width="0.4">E</text>
<text x="64.43" y="145.80" font-size="7.94" font-family="Liberation Serif, serif" font-weight="bold" textLength="6.46" lengthAdjust="spacingAndGlyphs" stroke="#000" stroke-width="0.4">E</text>
<text x="64.54" y="158.30" font-size="9.82" font-family="Liberation Serif, serif" font-weight="bold" textLength="7.83" lengthAdjust="spacingAndGlyphs" stroke="#000" stroke-width="0.4">2</text>
<text x="64.01" y="170.80" font-size="9.82" font-family="Liberation Serif, serif" font-weight="bold" textLength="6.99" lengthAdjust="spacingAndGlyphs" stroke="#000" stroke-width="0.4">2</text>
<text x="71.25" y="33.14" font-size="16.29" font-family="Liberation Serif, serif" font-weight="normal" textLength="6.55" lengthAdjust="spacingAndGlyphs" stroke="#000" stroke-width="0.2">/</text>
<text x="77.92" y="30.40" font-size="10.51" font-family="Liberation Serif, serif" font-weight="normal" textLength="17.58" lengthAdjust="spacingAndGlyphs" stroke="#000" stroke-width="0.4">dof</text>
</g>
</svg></body></html>
